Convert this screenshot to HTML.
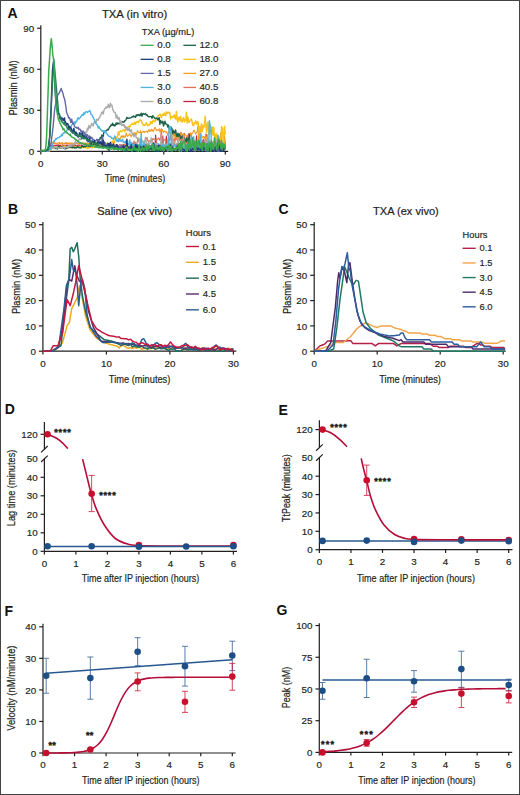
<!DOCTYPE html>
<html><head><meta charset="utf-8"><title>Figure</title>
<style>html,body{margin:0;padding:0;background:#fff;} svg{display:block;} text{font-family:"Liberation Sans", sans-serif;} text.n{stroke:#231f20;stroke-width:0.2px;} text.m{stroke:#231f20;stroke-width:0.18px;}</style>
</head><body>
<svg width="520" height="795" viewBox="0 0 520 795">
<rect x="0.5" y="0.5" width="519" height="794" fill="#fff" stroke="#444" stroke-width="1"/>
<text x="7.55" y="17.90" font-size="14" text-anchor="start" font-weight="bold" fill="#111">A</text>
<text x="7.96" y="214.40" font-size="14" text-anchor="start" font-weight="bold" fill="#111">B</text>
<text x="278.60" y="214.45" font-size="14" text-anchor="start" font-weight="bold" fill="#111">C</text>
<text x="4.86" y="414.40" font-size="14" text-anchor="start" font-weight="bold" fill="#111">D</text>
<text x="278.56" y="414.50" font-size="14" text-anchor="start" font-weight="bold" fill="#111">E</text>
<text x="4.56" y="615.50" font-size="14" text-anchor="start" font-weight="bold" fill="#111">F</text>
<text x="276.40" y="615.00" font-size="14" text-anchor="start" font-weight="bold" fill="#111">G</text>
<text class="n" x="134.60" y="18.10" font-size="11.3" text-anchor="middle" font-weight="normal" fill="#231f20" textLength="65.40" lengthAdjust="spacingAndGlyphs">TXA (in vitro)</text>
<line x1="40.80" y1="25.20" x2="40.80" y2="151.30" stroke="#231f20" stroke-width="1.2"/>
<line x1="37.20" y1="28.27" x2="40.80" y2="28.27" stroke="#231f20" stroke-width="1.2"/>
<text class="m" x="34.20" y="31.87" font-size="9.8" text-anchor="end" font-weight="normal" fill="#231f20">90</text>
<line x1="37.20" y1="69.28" x2="40.80" y2="69.28" stroke="#231f20" stroke-width="1.2"/>
<text class="m" x="34.20" y="72.88" font-size="9.8" text-anchor="end" font-weight="normal" fill="#231f20">60</text>
<line x1="37.20" y1="110.29" x2="40.80" y2="110.29" stroke="#231f20" stroke-width="1.2"/>
<text class="m" x="34.20" y="113.89" font-size="9.8" text-anchor="end" font-weight="normal" fill="#231f20">30</text>
<line x1="37.20" y1="151.30" x2="40.80" y2="151.30" stroke="#231f20" stroke-width="1.2"/>
<text class="m" x="34.20" y="154.90" font-size="9.8" text-anchor="end" font-weight="normal" fill="#231f20">0</text>
<line x1="40.80" y1="151.30" x2="228.20" y2="151.30" stroke="#231f20" stroke-width="1.2"/>
<line x1="40.80" y1="151.30" x2="40.80" y2="154.50" stroke="#231f20" stroke-width="1.2"/>
<text class="m" x="40.80" y="166.60" font-size="9.8" text-anchor="middle" font-weight="normal" fill="#231f20">0</text>
<line x1="102.30" y1="151.30" x2="102.30" y2="154.50" stroke="#231f20" stroke-width="1.2"/>
<text class="m" x="102.30" y="166.60" font-size="9.8" text-anchor="middle" font-weight="normal" fill="#231f20">30</text>
<line x1="163.80" y1="151.30" x2="163.80" y2="154.50" stroke="#231f20" stroke-width="1.2"/>
<text class="m" x="163.80" y="166.60" font-size="9.8" text-anchor="middle" font-weight="normal" fill="#231f20">60</text>
<line x1="225.30" y1="151.30" x2="225.30" y2="154.50" stroke="#231f20" stroke-width="1.2"/>
<text class="m" x="225.30" y="166.60" font-size="9.8" text-anchor="middle" font-weight="normal" fill="#231f20">90</text>
<text class="n" x="135.00" y="182.10" font-size="11.6" text-anchor="middle" font-weight="normal" fill="#231f20" textLength="60.60" lengthAdjust="spacingAndGlyphs">Time (minutes)</text>
<text class="n" transform="translate(17.10,87.90) rotate(-90)" x="0" y="0" font-size="11.0" text-anchor="middle" font-weight="normal" fill="#231f20" textLength="55.00" lengthAdjust="spacingAndGlyphs">Plasmin (nM)</text>
<polyline points="40.80,151.30 41.52,151.11 42.23,151.28 42.95,151.30 43.67,151.21 44.39,151.30 45.10,150.87 45.82,150.27 46.54,150.96 47.26,150.94 47.97,150.42 48.69,148.56 49.41,146.75 50.02,145.53 50.13,145.16 50.84,144.88 51.56,145.74 52.28,145.40 53.00,146.01 53.71,145.77 54.43,146.02 55.15,145.38 55.87,145.82 56.58,145.21 57.30,145.27 58.02,145.43 58.74,146.41 59.45,145.62 60.17,145.43 60.89,145.39 61.61,146.08 62.32,145.67 63.04,145.89 63.76,145.84 64.48,145.09 65.19,145.88 65.91,145.58 66.63,145.22 67.35,145.84 68.06,145.67 68.78,145.59 69.50,145.63 70.22,146.18 70.93,145.66 71.65,145.16 72.37,146.37 73.09,145.40 73.81,145.72 74.52,146.05 75.24,144.99 75.96,145.51 76.67,146.34 77.39,145.83 78.11,145.65 78.83,145.98 79.54,145.64 80.26,145.97 80.98,145.68 81.70,145.39 82.41,146.27 83.13,145.93 83.85,146.22 84.57,146.00 85.28,146.56 86.00,146.33 86.72,146.19 87.44,145.76 88.16,145.68 88.87,146.71 89.59,146.51 90.31,145.94 91.02,147.04 91.74,146.43 92.46,146.30 93.18,145.76 93.89,146.01 94.61,146.45 95.33,146.48 96.05,146.45 96.76,145.75 97.48,146.57 98.20,146.53 98.92,146.28 99.63,146.50 100.35,146.55 101.07,146.94 101.79,146.51 102.50,146.69 103.22,146.02 103.94,146.23 104.66,146.49 105.37,146.20 106.09,146.60 106.81,146.02 107.53,146.45 108.24,146.20 108.96,146.96 109.68,146.27 110.40,147.10 111.11,147.23 111.83,146.51 112.55,146.75 113.27,146.30 113.98,145.44 114.70,146.69 115.42,146.60 116.14,146.25 116.85,146.12 117.57,146.38 118.29,146.39 119.01,146.00 119.72,146.07 120.44,146.70 121.16,146.30 121.88,146.24 122.59,146.68 123.31,146.13 124.03,146.58 124.75,145.82 125.46,146.13 126.18,146.16 126.90,146.43 127.62,146.23 128.33,146.99 129.05,146.62 129.77,146.00 130.49,147.01 131.20,145.78 131.92,146.84 132.64,145.80 133.36,146.45 134.07,145.77 134.79,146.03 135.51,146.70 136.23,145.55 136.94,145.46 137.66,146.07 138.38,146.15 139.10,146.09 139.81,146.42 140.53,145.56 141.25,146.22 141.97,146.01 142.69,146.30 143.40,146.99 144.12,148.05 144.84,143.89 145.56,146.19 146.27,144.34 146.99,145.90 147.71,147.05 148.42,146.44 149.14,146.81 149.86,145.87 150.58,146.49 151.29,146.35 152.01,148.11 152.73,147.17 153.45,143.12 154.16,146.91 154.88,147.50 155.60,135.02 156.32,143.40 157.03,148.06 157.75,145.99 158.47,146.65 159.19,148.47 159.90,144.34 160.62,145.56 161.34,145.37 162.06,146.69 162.77,135.98 163.49,146.27 164.21,145.59 164.93,147.14 165.64,147.29 166.36,136.08 167.08,146.06 167.80,144.72 168.51,145.22 169.23,145.86 169.95,145.94 170.67,144.04 171.38,145.53 172.10,145.26 172.82,144.94 173.54,143.01 174.25,143.80 174.97,144.25 175.69,145.77 176.41,147.08 177.12,143.23 177.84,143.17 178.56,144.95 179.28,143.80 180.00,143.37 180.71,143.26 181.43,143.08 182.15,145.31 182.86,142.04 183.58,146.54 184.30,133.39 185.02,143.70 185.74,143.13 186.45,141.53 187.17,142.22 187.89,146.58 188.60,147.52 189.32,143.46 190.04,146.51 190.76,144.92 191.47,143.57 192.19,147.69 192.91,148.50 193.63,144.66 194.34,145.06 195.06,145.59 195.78,145.17 196.50,135.85 197.21,143.62 197.93,145.65 198.65,147.02 199.37,148.17 200.08,144.69 200.80,145.67 201.52,144.95 202.24,147.28 202.95,140.17 203.67,142.09 204.39,147.26 205.11,145.53 205.82,147.18 206.54,134.47 207.26,145.44 207.98,142.72 208.69,148.38 209.41,144.68 210.13,146.33 210.85,146.26 211.56,141.80 212.28,147.09 213.00,145.16 213.72,146.56 214.44,146.34 215.15,147.00 215.87,144.68 216.59,146.65 217.30,150.28 218.02,147.85 218.74,149.99 219.46,151.30 220.17,147.73 220.89,144.72 221.61,146.88 222.33,148.92 223.05,148.59 223.76,145.24 224.48,136.12 225.20,147.11" fill="none" stroke="#c1203e" stroke-width="1.1" stroke-linejoin="round" opacity="1"/>
<polyline points="40.80,151.30 41.52,150.88 42.23,150.87 42.95,151.16 43.67,151.30 44.39,151.11 45.10,151.17 45.82,150.56 46.54,149.83 47.26,150.60 47.97,150.94 48.69,148.70 49.41,145.86 50.02,143.85 50.13,144.25 50.84,143.73 51.56,144.25 52.28,143.33 53.00,143.35 53.71,143.34 54.43,143.98 55.15,143.57 55.87,143.84 56.58,143.94 57.30,143.92 58.02,144.31 58.74,144.37 59.45,143.46 60.17,143.86 60.89,143.69 61.61,143.37 62.32,144.49 63.04,144.10 63.76,143.71 64.48,143.62 65.19,143.94 65.91,143.36 66.63,143.70 67.35,144.28 68.06,144.16 68.78,143.45 69.50,143.59 70.22,144.56 70.93,143.23 71.65,143.54 72.37,143.23 73.09,143.94 73.81,143.90 74.52,144.24 75.24,142.74 75.96,143.85 76.67,143.13 77.39,144.05 78.11,143.71 78.83,144.47 79.54,143.94 80.26,143.38 80.98,144.29 81.70,143.34 82.41,143.66 83.13,144.25 83.85,144.06 84.57,144.06 85.28,143.92 86.00,144.14 86.72,144.28 87.44,144.09 88.16,144.41 88.87,144.55 89.59,144.06 90.31,143.70 91.02,144.72 91.74,144.11 92.46,144.40 93.18,144.56 93.89,143.83 94.61,144.42 95.33,143.62 96.05,144.58 96.76,144.12 97.48,144.40 98.20,144.64 98.92,144.11 99.63,144.44 100.35,144.15 101.07,144.44 101.79,144.89 102.50,144.51 103.22,144.47 103.94,144.13 104.66,144.92 105.37,144.58 106.09,145.30 106.81,144.35 107.53,145.08 108.24,145.40 108.96,144.71 109.68,144.26 110.40,145.36 111.11,145.21 111.83,145.09 112.55,145.27 113.27,144.68 113.98,145.19 114.70,145.17 115.42,144.66 116.14,145.24 116.85,144.77 117.57,145.37 118.29,145.50 119.01,145.77 119.72,144.28 120.44,145.20 121.16,144.99 121.88,145.13 122.59,145.08 123.31,145.02 124.03,144.11 124.75,145.17 125.46,145.23 126.18,144.86 126.90,144.84 127.62,143.84 128.33,143.66 129.05,144.24 129.77,144.27 130.49,143.69 131.20,142.83 131.92,144.40 132.64,142.88 133.36,144.86 134.07,140.95 134.79,144.57 135.51,143.01 136.23,145.03 136.94,143.94 137.66,139.59 138.38,140.44 139.10,142.47 139.81,143.19 140.53,144.91 141.25,142.14 141.97,141.39 142.69,141.39 143.40,141.30 144.12,143.03 144.84,141.05 145.56,140.90 146.27,138.43 146.99,137.31 147.71,140.77 148.42,141.78 149.14,140.42 149.86,141.25 150.58,141.35 151.29,140.00 152.01,141.61 152.73,138.54 153.45,139.67 154.16,138.90 154.88,139.53 155.60,140.34 156.32,140.58 157.03,139.16 157.75,139.56 158.47,138.02 159.19,138.29 159.90,140.55 160.62,138.04 161.34,128.88 162.06,139.82 162.77,139.52 163.49,142.97 164.21,139.40 164.93,139.57 165.64,140.40 166.36,141.11 167.08,140.96 167.80,141.96 168.51,135.81 169.23,141.09 169.95,139.88 170.67,134.93 171.38,139.50 172.10,139.60 172.82,140.04 173.54,140.51 174.25,138.73 174.97,142.80 175.69,135.22 176.41,139.66 177.12,139.71 177.84,139.66 178.56,133.20 179.28,141.05 180.00,139.58 180.71,132.34 181.43,140.59 182.15,143.78 182.86,134.98 183.58,139.25 184.30,139.66 185.02,141.19 185.74,144.52 186.45,140.22 187.17,135.82 187.89,146.69 188.60,133.50 189.32,145.14 190.04,144.94 190.76,143.91 191.47,140.67 192.19,143.74 192.91,142.74 193.63,140.27 194.34,140.69 195.06,143.85 195.78,144.24 196.50,146.20 197.21,145.34 197.93,143.46 198.65,143.58 199.37,144.16 200.08,134.71 200.80,145.86 201.52,144.66 202.24,143.33 202.95,143.66 203.67,142.86 204.39,144.12 205.11,145.45 205.82,133.76 206.54,146.81 207.26,142.89 207.98,144.13 208.69,145.33 209.41,144.75 210.13,142.47 210.85,146.09 211.56,146.57 212.28,147.11 213.00,145.27 213.72,146.30 214.44,144.18 215.15,145.17 215.87,147.01 216.59,139.95 217.30,144.79 218.02,151.13 218.74,136.08 219.46,145.45 220.17,145.30 220.89,132.52 221.61,144.69 222.33,146.25 223.05,146.36 223.76,145.60 224.48,148.05 225.20,141.80" fill="none" stroke="#e4705c" stroke-width="1.1" stroke-linejoin="round" opacity="1"/>
<polyline points="40.80,151.30 41.52,151.30 42.23,151.18 42.95,150.34 43.67,150.21 44.39,150.42 45.10,150.60 45.82,151.10 46.54,150.16 47.26,150.71 47.97,150.64 48.69,148.10 49.41,145.32 50.02,143.28 50.13,143.13 50.84,143.54 51.56,143.25 52.28,142.16 53.00,143.13 53.71,143.20 54.43,142.88 55.15,142.81 55.87,143.55 56.58,143.18 57.30,142.72 58.02,142.99 58.74,143.05 59.45,142.46 60.17,143.38 60.89,143.06 61.61,143.31 62.32,142.49 63.04,143.90 63.76,143.37 64.48,143.32 65.19,142.83 65.91,142.85 66.63,142.53 67.35,143.74 68.06,142.79 68.78,143.22 69.50,143.37 70.22,142.88 70.93,143.48 71.65,143.95 72.37,143.25 73.09,143.71 73.81,143.36 74.52,142.95 75.24,142.97 75.96,142.45 76.67,143.18 77.39,143.73 78.11,143.41 78.83,143.48 79.54,143.60 80.26,142.92 80.98,143.36 81.70,143.91 82.41,142.86 83.13,143.25 83.85,143.12 84.57,143.29 85.28,143.13 86.00,143.43 86.72,143.00 87.44,143.39 88.16,143.47 88.87,143.52 89.59,144.34 90.31,143.87 91.02,143.97 91.74,143.84 92.46,144.54 93.18,143.38 93.89,144.06 94.61,144.66 95.33,144.93 96.05,144.40 96.76,144.38 97.48,144.70 98.20,144.43 98.92,144.65 99.63,144.08 100.35,144.52 101.07,144.16 101.79,143.66 102.50,140.82 103.22,145.14 103.94,144.39 104.66,144.77 105.37,142.69 106.09,144.99 106.81,144.09 107.53,143.45 108.24,144.54 108.96,144.43 109.68,143.75 110.40,145.67 111.11,144.79 111.83,143.29 112.55,142.18 113.27,142.17 113.98,143.70 114.70,141.67 115.42,139.70 116.14,139.58 116.85,139.94 117.57,140.51 118.29,138.22 119.01,139.29 119.72,139.60 120.44,138.87 121.16,135.89 121.88,137.19 122.59,135.82 123.31,137.62 124.03,135.67 124.75,137.35 125.46,136.59 126.18,133.12 126.90,135.02 127.62,136.37 128.33,135.64 129.05,134.92 129.77,133.62 130.49,135.50 131.20,136.83 131.92,134.86 132.64,134.36 133.36,134.10 134.07,132.47 134.79,133.56 135.51,132.81 136.23,135.02 136.94,132.45 137.66,130.80 138.38,132.29 139.10,132.78 139.81,132.76 140.53,130.61 141.25,133.81 141.97,132.66 142.69,131.81 143.40,131.30 144.12,132.55 144.84,131.43 145.56,131.94 146.27,131.25 146.99,131.36 147.71,132.40 148.42,130.81 149.14,129.51 149.86,131.57 150.58,130.47 151.29,129.16 152.01,131.35 152.73,129.86 153.45,131.44 154.16,128.80 154.88,127.40 155.60,127.81 156.32,130.63 157.03,129.50 157.75,130.32 158.47,130.39 159.19,128.67 159.90,132.25 160.62,129.44 161.34,131.00 162.06,129.41 162.77,131.11 163.49,132.36 164.21,131.39 164.93,131.03 165.64,132.09 166.36,131.74 167.08,133.27 167.80,135.55 168.51,131.00 169.23,131.78 169.95,133.43 170.67,133.91 171.38,131.82 172.10,135.77 172.82,136.54 173.54,135.42 174.25,132.18 174.97,138.67 175.69,132.48 176.41,137.14 177.12,138.43 177.84,132.74 178.56,136.01 179.28,138.89 180.00,136.50 180.71,133.25 181.43,132.54 182.15,136.45 182.86,134.32 183.58,133.49 184.30,136.76 185.02,134.22 185.74,135.10 186.45,136.27 187.17,136.13 187.89,134.85 188.60,135.03 189.32,136.59 190.04,136.34 190.76,132.64 191.47,134.95 192.19,133.39 192.91,132.70 193.63,130.45 194.34,130.25 195.06,132.76 195.78,134.04 196.50,132.84 197.21,131.64 197.93,125.57 198.65,141.40 199.37,139.20 200.08,126.02 200.80,135.33 201.52,135.68 202.24,137.90 202.95,136.83 203.67,136.57 204.39,138.60 205.11,136.11 205.82,144.42 206.54,137.67 207.26,134.78 207.98,137.61 208.69,140.90 209.41,142.89 210.13,140.15 210.85,143.68 211.56,144.05 212.28,146.03 213.00,142.61 213.72,141.69 214.44,140.60 215.15,143.64 215.87,140.90 216.59,143.61 217.30,144.06 218.02,142.60 218.74,141.59 219.46,145.21 220.17,145.15 220.89,145.13 221.61,144.71 222.33,147.30 223.05,142.74 223.76,135.54 224.48,144.49 225.20,141.03" fill="none" stroke="#f39c23" stroke-width="1.1" stroke-linejoin="round" opacity="1"/>
<polyline points="40.80,150.89 41.52,151.30 42.23,150.92 42.95,150.10 43.67,150.42 44.39,151.30 45.10,150.47 45.82,150.25 46.54,151.23 47.26,151.28 47.97,150.76 48.69,151.30 49.00,149.81 49.41,151.25 50.13,149.34 50.84,147.69 51.05,147.32 51.56,147.11 52.28,147.05 53.00,147.32 53.71,146.58 54.43,148.37 55.15,147.20 55.87,147.59 56.58,147.13 57.30,147.08 58.02,147.70 58.74,147.55 59.45,146.77 60.17,147.01 60.89,147.57 61.61,146.08 62.32,145.94 63.04,148.00 63.76,147.03 64.48,145.83 65.19,146.77 65.91,147.08 66.63,147.31 67.35,147.49 68.06,147.32 68.78,147.50 69.50,146.79 70.22,147.42 70.93,147.44 71.65,147.86 72.37,147.23 73.09,147.69 73.81,147.30 74.52,146.63 75.24,147.00 75.96,146.92 76.67,147.00 77.39,147.17 78.11,147.27 78.83,147.37 79.54,146.78 80.26,147.79 80.98,146.47 81.70,147.18 82.41,147.61 83.13,147.47 83.85,147.57 84.57,147.11 85.28,147.59 86.00,146.57 86.72,147.63 87.44,148.44 88.16,147.60 88.87,148.30 89.59,147.22 90.31,146.62 91.02,146.84 91.74,147.93 92.46,147.56 93.18,146.08 93.89,146.78 94.61,146.85 95.33,146.18 96.05,145.32 96.76,145.86 97.48,146.40 98.20,146.18 98.92,145.95 99.63,146.52 100.35,146.67 101.07,145.97 101.79,146.42 102.50,145.83 103.22,145.42 103.94,142.73 104.66,145.98 105.37,144.94 106.09,144.75 106.81,143.85 107.53,142.94 108.24,144.39 108.96,144.51 109.68,145.17 110.40,144.15 111.11,141.86 111.83,141.63 112.55,142.02 113.27,140.55 113.98,139.35 114.70,138.06 115.42,138.50 116.14,137.14 116.85,137.78 117.57,135.98 118.29,131.88 119.01,134.97 119.72,131.88 120.44,130.79 121.16,131.19 121.88,131.41 122.59,130.35 123.31,130.04 124.03,129.87 124.75,131.59 125.46,129.34 126.18,129.69 126.90,128.92 127.62,127.65 128.33,126.76 129.05,126.06 129.77,127.15 130.49,125.17 131.20,124.46 131.92,124.08 132.64,123.37 133.36,124.57 134.07,124.04 134.79,122.40 135.51,124.24 136.23,121.96 136.94,122.22 137.66,121.49 138.38,122.44 139.10,120.95 139.81,119.88 140.53,119.82 141.25,120.64 141.97,122.75 142.69,123.80 143.40,125.44 144.12,125.02 144.84,125.45 145.56,124.24 146.27,122.71 146.99,124.38 147.71,125.70 148.42,124.72 149.14,125.10 149.86,124.53 150.58,121.46 151.29,122.30 152.01,123.86 152.73,121.13 153.45,120.12 154.16,121.54 154.88,121.42 155.60,120.61 156.32,118.97 157.03,117.76 157.75,116.25 158.47,115.58 159.19,115.00 159.90,114.13 160.62,114.72 161.34,117.75 162.06,115.19 162.77,114.32 163.49,115.32 164.21,113.06 164.93,115.00 165.64,115.79 166.36,111.76 167.08,112.90 167.80,113.49 168.51,112.19 169.23,112.36 169.95,113.93 170.67,118.92 171.38,116.39 172.10,116.42 172.82,117.68 173.54,116.13 174.25,114.90 174.97,117.89 175.69,119.19 176.41,111.47 177.12,119.17 177.84,121.76 178.56,117.57 179.28,117.25 180.00,120.89 180.71,116.60 181.43,120.65 182.15,122.17 182.86,119.07 183.58,117.50 184.30,121.94 185.02,119.25 185.74,120.74 186.45,112.17 187.17,123.04 187.89,117.08 188.60,121.73 189.32,122.29 190.04,120.07 190.76,119.88 191.47,119.09 192.19,122.24 192.91,125.40 193.63,125.58 194.34,122.80 195.06,122.95 195.78,120.86 196.50,124.17 197.21,122.61 197.93,121.64 198.65,126.15 199.37,131.55 200.08,131.08 200.80,132.30 201.52,123.63 202.24,131.41 202.95,125.60 203.67,128.00 204.39,125.06 205.11,116.25 205.82,124.38 206.54,132.20 207.26,125.09 207.98,122.04 208.69,134.57 209.41,133.54 210.13,129.06 210.85,130.62 211.56,134.04 212.28,127.16 213.00,135.17 213.72,127.17 214.44,136.59 215.15,134.28 215.87,141.57 216.59,133.64 217.30,138.97 218.02,135.47 218.74,136.98 219.46,138.40 220.17,140.36 220.89,137.74 221.61,126.71 222.33,128.36 223.05,138.59 223.76,143.93 224.48,126.18 225.20,134.88" fill="none" stroke="#f7c31c" stroke-width="1.5" stroke-linejoin="round" opacity="1"/>
<polyline points="40.80,151.30 41.52,151.30 42.23,150.89 42.95,150.80 43.67,151.30 44.39,150.66 45.10,150.63 45.82,151.30 46.54,150.99 47.26,150.53 47.97,151.02 48.69,151.30 49.00,150.77 49.41,149.66 50.13,148.25 50.84,149.35 51.05,146.45 51.56,148.49 52.28,147.33 53.00,147.16 53.71,147.29 54.43,147.73 55.15,148.43 55.87,147.43 56.58,148.15 57.30,149.12 58.02,146.18 58.74,147.32 59.45,146.70 60.17,148.18 60.89,146.86 61.61,146.78 62.32,146.78 63.04,147.63 63.76,148.26 64.48,147.68 65.19,148.77 65.91,148.48 66.63,147.49 67.35,148.06 68.06,147.59 68.78,147.55 69.50,146.42 70.22,146.75 70.93,147.47 71.65,146.76 72.37,147.83 73.09,147.58 73.81,146.88 74.52,148.04 75.24,147.50 75.96,148.05 76.67,147.25 77.39,146.40 78.11,147.69 78.83,147.14 79.54,147.74 80.26,147.86 80.98,147.89 81.70,146.41 82.41,145.78 83.13,146.67 83.85,147.18 84.57,146.26 85.28,146.68 86.00,145.92 86.72,146.06 87.44,145.92 88.16,145.60 88.87,146.10 89.59,145.86 90.31,146.44 91.02,145.60 91.74,145.99 92.46,145.05 93.18,145.33 93.89,144.08 94.61,143.41 95.33,144.56 96.05,143.68 96.76,143.41 97.48,141.45 98.20,139.84 98.92,139.72 99.63,139.89 100.35,137.43 101.07,138.70 101.79,135.05 102.50,135.72 103.22,136.53 103.94,131.15 104.66,131.11 105.37,132.32 106.09,130.64 106.81,130.25 107.53,129.29 108.24,129.89 108.96,128.53 109.68,126.88 110.40,126.38 111.11,124.88 111.83,125.30 112.55,123.21 113.27,125.50 113.98,124.47 114.70,126.03 115.42,125.26 116.14,122.89 116.85,124.50 117.57,123.03 118.29,123.26 119.01,123.89 119.72,123.17 120.44,123.15 121.16,122.98 121.88,121.81 122.59,121.66 123.31,122.24 124.03,122.09 124.75,120.68 125.46,120.57 126.18,119.21 126.90,117.32 127.62,118.23 128.33,118.36 129.05,117.90 129.77,118.11 130.49,117.85 131.20,117.62 131.92,116.99 132.64,116.95 133.36,115.93 134.07,116.80 134.79,116.57 135.51,117.34 136.23,114.92 136.94,115.79 137.66,114.63 138.38,115.29 139.10,114.57 139.81,115.84 140.53,114.90 141.25,113.11 141.97,116.18 142.69,114.06 143.40,113.49 144.12,114.40 144.84,113.98 145.56,113.42 146.27,115.13 146.99,114.68 147.71,116.20 148.42,116.48 149.14,116.78 149.86,116.61 150.58,116.59 151.29,116.56 152.01,118.36 152.73,115.74 153.45,116.69 154.16,117.30 154.88,118.47 155.60,118.49 156.32,118.03 157.03,118.15 157.75,119.90 158.47,118.49 159.19,117.75 159.90,124.39 160.62,120.44 161.34,121.97 162.06,123.26 162.77,121.24 163.49,126.02 164.21,123.78 164.93,121.27 165.64,123.74 166.36,124.05 167.08,124.59 167.80,126.96 168.51,125.04 169.23,129.40 169.95,126.63 170.67,130.44 171.38,127.42 172.10,129.03 172.82,133.94 173.54,130.32 174.25,132.84 174.97,132.53 175.69,130.03 176.41,135.64 177.12,136.67 177.84,133.47 178.56,136.02 179.28,133.94 180.00,136.31 180.71,138.66 181.43,137.61 182.15,135.93 182.86,136.93 183.58,139.03 184.30,139.47 185.02,140.25 185.74,141.55 186.45,137.83 187.17,141.60 187.89,138.87 188.60,143.52 189.32,133.97 190.04,142.74 190.76,144.61 191.47,146.06 192.19,137.78 192.91,148.50 193.63,148.01 194.34,144.61 195.06,146.91 195.78,145.61 196.50,144.32 197.21,145.42 197.93,146.62 198.65,143.21 199.37,141.82 200.08,147.68 200.80,145.97 201.52,146.53 202.24,148.69 202.95,147.14 203.67,143.36 204.39,150.62 205.11,147.61 205.82,147.82 206.54,143.09 207.26,150.16 207.98,148.00 208.69,147.49 209.41,147.27 210.13,149.38 210.85,146.41 211.56,149.55 212.28,147.90 213.00,145.34 213.72,148.73 214.44,148.44 215.15,139.85 215.87,148.27 216.59,148.14 217.30,147.29 218.02,145.91 218.74,151.30 219.46,149.12 220.17,149.44 220.89,149.59 221.61,149.22 222.33,149.21 223.05,147.31 223.76,149.34 224.48,147.65 225.20,147.20" fill="none" stroke="#1b6248" stroke-width="1.4" stroke-linejoin="round" opacity="1"/>
<polyline points="40.80,151.30 41.52,151.30 42.23,151.30 42.95,151.30 43.67,151.30 44.39,150.97 45.10,150.49 45.82,150.44 46.54,151.30 47.26,151.23 47.97,151.25 48.69,149.83 49.41,151.05 50.13,148.33 50.84,149.03 51.05,149.10 51.56,148.29 52.28,147.74 53.00,148.15 53.71,147.59 54.43,148.15 55.15,147.33 55.87,147.26 56.58,148.11 57.30,146.99 58.02,147.79 58.74,147.77 59.45,148.40 60.17,147.89 60.89,147.10 61.61,148.46 62.32,147.05 63.04,147.19 63.76,147.17 64.48,148.80 65.19,147.29 65.91,146.59 66.63,147.31 67.35,146.49 68.06,147.94 68.78,145.61 69.50,146.28 70.22,145.00 70.93,146.61 71.65,144.64 72.37,145.04 73.09,144.08 73.81,144.94 74.52,144.16 75.24,141.64 75.96,143.17 76.67,142.52 77.39,141.67 78.11,141.61 78.83,139.53 79.54,138.60 80.26,139.70 80.98,139.39 81.70,136.33 82.41,134.53 83.13,133.84 83.85,132.30 84.57,133.99 85.28,131.95 86.00,132.61 86.72,132.10 87.44,128.26 88.16,129.96 88.87,125.37 89.59,127.82 90.31,128.09 91.02,125.41 91.74,123.33 92.46,124.42 93.18,126.04 93.89,123.15 94.61,121.07 95.33,122.92 96.05,122.59 96.76,119.27 97.48,119.48 98.20,120.18 98.92,118.21 99.63,117.75 100.35,115.35 101.07,114.65 101.79,112.27 102.50,111.92 103.22,114.07 103.94,110.42 104.66,108.79 105.37,108.44 106.09,106.69 106.81,107.90 107.53,107.49 108.24,104.32 108.96,106.71 109.68,107.87 110.40,103.27 111.11,105.45 111.83,104.98 112.55,108.48 113.27,110.39 113.98,112.01 114.70,112.36 115.42,112.79 116.14,117.87 116.85,115.14 117.57,118.52 118.29,119.10 119.01,117.46 119.72,120.34 120.44,124.37 121.16,121.04 121.88,125.48 122.59,124.70 123.31,125.46 124.03,124.45 124.75,127.64 125.46,126.27 126.18,129.21 126.90,127.20 127.62,130.32 128.33,130.32 129.05,127.91 129.77,130.80 130.49,131.81 131.20,129.63 131.92,132.93 132.64,135.14 133.36,133.59 134.07,136.78 134.79,134.20 135.51,134.67 136.23,137.68 136.94,138.32 137.66,137.73 138.38,138.43 139.10,140.27 139.81,138.63 140.53,142.68 141.25,140.96 141.97,141.39 142.69,141.69 143.40,141.34 144.12,143.63 144.84,141.34 145.56,137.39 146.27,143.41 146.99,144.58 147.71,144.52 148.42,142.61 149.14,144.61 149.86,143.39 150.58,142.22 151.29,137.82 152.01,141.92 152.73,144.65 153.45,145.92 154.16,143.15 154.88,144.22 155.60,143.20 156.32,144.82 157.03,143.30 157.75,143.87 158.47,144.14 159.19,144.53 159.90,144.77 160.62,145.09 161.34,135.07 162.06,144.25 162.77,146.40 163.49,143.42 164.21,146.00 164.93,144.54 165.64,146.04 166.36,146.28 167.08,143.20 167.80,146.43 168.51,147.79 169.23,143.22 169.95,146.54 170.67,143.19 171.38,145.89 172.10,144.92 172.82,136.69 173.54,145.78 174.25,145.38 174.97,143.87 175.69,147.31 176.41,145.57 177.12,146.01 177.84,138.25 178.56,146.51 179.28,146.88 180.00,149.73 180.71,145.77 181.43,145.88 182.15,147.25 182.86,148.51 183.58,135.51 184.30,146.38 185.02,142.08 185.74,144.88 186.45,147.55 187.17,145.76 187.89,147.23 188.60,147.02 189.32,147.08 190.04,147.00 190.76,145.51 191.47,146.89 192.19,147.30 192.91,147.50 193.63,146.69 194.34,148.41 195.06,147.91 195.78,147.33 196.50,148.06 197.21,147.48 197.93,148.18 198.65,144.64 199.37,145.60 200.08,146.83 200.80,147.55 201.52,144.51 202.24,147.10 202.95,147.69 203.67,147.19 204.39,147.22 205.11,145.74 205.82,147.73 206.54,144.86 207.26,138.78 207.98,146.85 208.69,149.20 209.41,145.38 210.13,148.34 210.85,148.00 211.56,146.69 212.28,146.27 213.00,149.54 213.72,148.52 214.44,149.99 215.15,138.26 215.87,148.29 216.59,139.80 217.30,149.15 218.02,148.77 218.74,149.29 219.46,147.58 220.17,146.27 220.89,151.01 221.61,148.56 222.33,149.01 223.05,147.79 223.76,146.07 224.48,148.73 225.20,149.98" fill="none" stroke="#a9a9a9" stroke-width="1.4" stroke-linejoin="round" opacity="1"/>
<polyline points="40.80,151.30 41.52,150.19 42.23,150.79 42.95,151.30 43.67,151.30 44.39,150.35 45.10,149.83 45.82,151.30 46.54,151.12 46.95,150.17 47.26,150.43 47.97,148.75 48.69,149.96 49.41,148.66 50.02,149.42 50.13,146.96 50.84,147.70 51.56,147.51 52.28,144.89 53.00,143.71 53.71,141.11 54.43,141.45 54.94,140.37 55.15,139.80 55.87,138.58 56.58,139.16 57.30,137.86 58.02,137.68 58.74,137.69 59.45,136.89 60.17,136.38 60.89,136.48 61.61,134.42 62.32,135.59 63.04,133.24 63.76,132.79 64.48,132.90 65.19,132.76 65.91,131.79 66.63,130.65 67.35,129.66 68.06,129.17 68.78,127.88 69.50,128.13 70.22,126.78 70.93,127.21 71.65,124.81 72.37,124.42 73.09,124.00 73.81,122.17 74.52,121.89 75.24,123.69 75.96,121.13 76.67,121.55 77.39,119.23 78.11,117.65 78.83,119.10 79.54,118.04 80.26,117.55 80.98,116.43 81.70,115.53 82.41,114.38 83.13,115.23 83.85,112.77 84.57,114.05 85.28,112.80 86.00,111.77 86.72,111.65 87.44,112.35 88.16,111.76 88.87,111.17 89.59,110.46 90.31,111.18 91.02,114.39 91.74,114.67 92.46,115.96 93.18,117.38 93.89,119.10 94.61,120.24 95.33,122.81 96.05,123.56 96.76,124.76 97.48,124.88 98.20,128.09 98.92,126.60 99.63,128.34 100.35,129.01 101.07,129.99 101.79,131.12 102.50,130.62 103.22,131.33 103.94,131.00 104.66,132.83 105.37,131.32 106.09,132.63 106.81,133.70 107.53,134.73 108.24,135.50 108.96,136.42 109.68,136.50 110.40,136.60 111.11,137.20 111.83,138.49 112.55,138.13 113.27,139.23 113.98,138.03 114.70,135.93 115.42,137.80 116.14,139.26 116.85,141.23 117.57,141.11 118.29,141.66 119.01,138.62 119.72,140.95 120.44,140.11 121.16,141.34 121.88,140.66 122.59,139.16 123.31,142.29 124.03,142.05 124.75,142.91 125.46,140.85 126.18,143.67 126.90,144.05 127.62,144.63 128.33,144.88 129.05,142.54 129.77,139.90 130.49,145.01 131.20,142.57 131.92,143.76 132.64,145.84 133.36,144.90 134.07,144.99 134.79,145.76 135.51,142.32 136.23,147.71 136.94,144.72 137.66,144.93 138.38,146.32 139.10,145.47 139.81,144.62 140.53,145.75 141.25,134.10 141.97,145.30 142.69,149.17 143.40,144.50 144.12,143.42 144.84,145.21 145.56,145.19 146.27,148.51 146.99,146.77 147.71,147.74 148.42,147.45 149.14,145.34 149.86,147.78 150.58,146.88 151.29,149.32 152.01,146.95 152.73,146.63 153.45,147.73 154.16,147.77 154.88,144.23 155.60,148.48 156.32,148.28 157.03,147.96 157.75,145.24 158.47,144.02 159.19,146.46 159.90,147.91 160.62,147.53 161.34,145.51 162.06,148.23 162.77,145.02 163.49,145.08 164.21,146.94 164.93,146.17 165.64,146.05 166.36,144.97 167.08,148.55 167.80,145.51 168.51,147.66 169.23,127.13 169.95,126.74 170.67,126.63 171.38,148.57 172.10,149.42 172.82,148.54 173.54,145.29 174.25,144.61 174.97,146.42 175.69,145.70 176.41,148.05 177.12,147.47 177.84,146.99 178.56,148.88 179.28,148.77 180.00,147.30 180.71,147.89 181.43,148.92 182.15,146.96 182.86,147.86 183.58,146.13 184.30,147.55 185.02,147.97 185.74,147.40 186.45,147.83 187.17,148.53 187.89,148.18 188.60,146.62 189.32,146.78 190.04,145.93 190.76,150.02 191.47,135.38 192.19,148.30 192.91,147.52 193.63,136.81 194.34,148.49 195.06,146.74 195.78,147.58 196.50,149.44 197.21,146.04 197.93,146.52 198.65,148.68 199.37,146.78 200.08,148.94 200.80,133.89 201.52,148.27 202.24,149.09 202.95,148.52 203.67,149.07 204.39,147.78 205.11,147.82 205.82,148.03 206.54,148.86 207.26,151.30 207.98,148.01 208.69,150.74 209.41,120.77 210.13,125.56 210.85,126.97 211.56,148.75 212.28,148.49 213.00,148.44 213.72,149.03 214.44,149.09 215.15,149.58 215.87,146.71 216.59,148.37 217.30,147.06 218.02,135.42 218.74,148.30 219.46,148.65 220.17,147.81 220.89,147.33 221.61,148.15 222.33,149.41 223.05,149.58 223.76,146.26 224.48,148.93 225.20,148.96" fill="none" stroke="#4bb4e3" stroke-width="1.4" stroke-linejoin="round" opacity="1"/>
<polyline points="40.80,151.30 41.52,151.00 42.23,151.22 42.95,151.15 43.67,151.10 44.39,150.87 45.10,151.14 45.82,150.66 46.54,150.79 46.95,150.85 47.26,150.38 47.97,149.08 48.69,147.77 48.79,147.62 49.41,146.47 50.13,144.82 50.84,143.50 51.05,142.76 51.56,139.00 52.28,133.82 53.00,127.15 53.10,126.66 53.71,120.16 54.43,111.90 54.60,110.26 55.15,106.59 55.87,103.34 56.58,100.21 57.20,96.47 57.30,96.52 58.02,94.43 58.74,93.78 59.45,92.65 60.17,90.56 60.89,89.21 61.30,88.40 61.61,89.90 62.32,91.62 63.04,93.70 63.76,97.10 64.48,98.68 64.78,100.19 65.19,102.10 65.91,107.01 66.63,112.43 67.35,114.17 68.06,115.83 68.78,118.08 69.50,117.69 70.22,120.05 70.93,122.48 71.65,119.20 72.37,122.66 73.09,123.80 73.81,123.62 74.52,126.55 75.24,127.18 75.96,127.10 76.67,127.98 77.39,127.94 78.11,127.30 78.83,129.55 79.54,129.01 80.26,129.41 80.98,131.78 81.70,130.87 82.41,132.68 83.13,131.02 83.85,132.21 84.57,133.24 85.28,135.27 86.00,134.23 86.72,135.74 87.44,134.68 88.16,136.13 88.87,137.44 89.59,136.09 90.31,136.86 91.02,138.79 91.74,137.22 92.46,139.17 93.18,139.53 93.89,139.41 94.61,140.72 95.33,140.73 96.05,140.78 96.76,139.28 97.48,139.67 98.20,141.86 98.92,140.03 99.63,142.05 100.35,141.80 101.07,141.46 101.79,142.32 102.50,136.66 103.22,142.80 103.94,144.59 104.66,142.07 105.37,144.16 106.09,144.25 106.81,147.40 107.53,143.25 108.24,143.66 108.96,143.89 109.68,143.91 110.40,143.34 111.11,145.46 111.83,144.59 112.55,146.65 113.27,146.31 113.98,144.87 114.70,145.69 115.42,147.67 116.14,145.92 116.85,146.61 117.57,147.40 118.29,146.12 119.01,147.14 119.72,148.51 120.44,148.10 121.16,145.05 121.88,148.73 122.59,146.93 123.31,146.60 124.03,146.66 124.75,148.80 125.46,147.91 126.18,147.50 126.90,146.87 127.62,148.55 128.33,149.21 129.05,146.94 129.77,146.92 130.49,147.82 131.20,148.99 131.92,147.97 132.64,148.39 133.36,147.65 134.07,149.95 134.79,148.46 135.51,148.78 136.23,149.83 136.94,148.39 137.66,148.60 138.38,149.09 139.10,148.22 139.81,150.22 140.53,148.74 141.25,148.22 141.97,148.39 142.69,147.53 143.40,150.03 144.12,150.38 144.84,148.48 145.56,148.25 146.27,146.44 146.99,148.10 147.71,149.74 148.42,147.91 149.14,149.73 149.86,150.44 150.58,145.97 151.29,148.48 152.01,148.07 152.73,148.24 153.45,146.89 154.16,144.34 154.88,147.56 155.60,150.02 156.32,150.43 157.03,147.36 157.75,147.32 158.47,148.38 159.19,148.71 159.90,148.78 160.62,149.73 161.34,147.30 162.06,148.28 162.77,148.45 163.49,148.61 164.21,147.88 164.93,148.49 165.64,148.23 166.36,150.34 167.08,148.51 167.80,146.69 168.51,149.66 169.23,149.24 169.95,148.14 170.67,148.08 171.38,148.45 172.10,150.91 172.82,148.61 173.54,150.46 174.25,150.08 174.97,148.59 175.69,149.52 176.41,148.32 177.12,145.78 177.84,148.38 178.56,148.45 179.28,150.23 180.00,149.96 180.71,150.44 181.43,149.87 182.15,150.49 182.86,150.03 183.58,149.54 184.30,150.42 185.02,150.89 185.74,150.84 186.45,148.86 187.17,149.30 187.89,148.26 188.60,148.25 189.32,149.77 190.04,148.68 190.76,151.00 191.47,146.94 192.19,148.14 192.91,149.69 193.63,150.74 194.34,149.06 195.06,151.30 195.78,150.35 196.50,140.86 197.21,149.43 197.93,150.06 198.65,148.50 199.37,150.68 200.08,146.43 200.80,150.11 201.52,150.51 202.24,149.08 202.95,150.69 203.67,139.42 204.39,150.26 205.11,147.46 205.82,150.84 206.54,148.99 207.26,150.98 207.98,151.14 208.69,149.51 209.41,148.96 210.13,151.10 210.85,148.42 211.56,150.60 212.28,149.60 213.00,149.34 213.72,149.11 214.44,151.30 215.15,148.01 215.87,149.18 216.59,150.27 217.30,150.93 218.02,144.21 218.74,151.30 219.46,143.91 220.17,150.23 220.89,151.11 221.61,150.45 222.33,148.18 223.05,150.26 223.76,150.55 224.48,148.44 225.20,149.43" fill="none" stroke="#6466a6" stroke-width="1.4" stroke-linejoin="round" opacity="1"/>
<polyline points="40.80,151.04 41.52,151.30 42.23,150.76 42.95,150.90 43.67,150.52 44.39,150.76 45.10,150.62 45.82,150.66 46.54,150.05 47.26,149.81 47.97,149.35 48.69,144.20 49.41,139.10 49.61,137.69 50.13,127.37 50.84,113.27 51.01,109.62 51.56,94.94 52.28,76.23 52.51,70.15 53.00,65.71 53.51,61.95 53.71,65.73 54.43,78.07 54.53,80.32 55.15,89.86 55.76,99.48 55.87,100.62 56.58,104.98 57.20,109.94 57.30,110.12 58.02,112.64 58.43,113.65 58.74,114.25 59.45,115.12 60.17,119.04 60.89,117.12 61.61,120.50 62.32,118.24 63.04,119.05 63.76,120.64 64.48,117.89 64.78,120.97 65.19,121.40 65.91,123.16 66.63,124.71 67.35,123.61 68.06,124.33 68.78,129.55 69.50,126.32 70.22,128.06 70.93,127.81 71.65,129.23 72.37,132.81 73.09,133.22 73.81,128.44 74.52,131.77 75.24,134.95 75.96,131.97 76.67,133.38 77.39,136.17 78.11,137.12 78.83,136.05 79.54,132.87 80.26,133.59 80.98,134.22 81.70,133.56 82.41,133.29 83.13,138.39 83.85,135.48 84.57,136.70 85.28,137.71 86.00,136.78 86.72,137.06 87.44,138.47 88.16,141.73 88.87,141.16 89.59,137.88 90.31,143.49 91.02,144.76 91.74,141.43 92.46,141.01 93.18,141.40 93.89,144.37 94.61,140.76 95.33,144.08 96.05,144.87 96.76,144.10 97.48,143.38 98.20,142.08 98.92,142.41 99.63,143.73 100.35,142.21 101.07,143.92 101.79,142.67 102.50,146.95 103.22,140.34 103.94,143.47 104.66,147.51 105.37,145.77 106.09,145.61 106.81,146.50 107.53,146.63 108.24,143.55 108.96,150.71 109.68,144.84 110.40,142.53 111.11,146.76 111.83,147.04 112.55,145.91 113.27,144.00 113.98,149.41 114.70,147.19 115.42,147.72 116.14,146.44 116.85,144.43 117.57,146.36 118.29,148.33 119.01,147.54 119.72,148.87 120.44,148.91 121.16,148.02 121.88,148.07 122.59,149.95 123.31,145.13 124.03,148.20 124.75,150.47 125.46,146.10 126.18,149.44 126.90,139.24 127.62,148.23 128.33,147.81 129.05,148.00 129.77,149.37 130.49,148.32 131.20,144.83 131.92,151.30 132.64,148.42 133.36,147.80 134.07,150.45 134.79,151.03 135.51,144.77 136.23,149.27 136.94,144.93 137.66,147.68 138.38,148.51 139.10,147.81 139.81,147.54 140.53,146.58 141.25,147.91 141.97,148.44 142.69,148.40 143.40,146.32 144.12,147.28 144.84,150.52 145.56,149.88 146.27,148.17 146.99,149.88 147.71,149.45 148.42,150.49 149.14,149.27 149.86,148.06 150.58,147.06 151.29,148.82 152.01,145.16 152.73,148.99 153.45,143.19 154.16,147.10 154.88,148.01 155.60,149.79 156.32,151.30 157.03,149.20 157.75,148.62 158.47,145.53 159.19,151.30 159.90,145.58 160.62,149.42 161.34,147.70 162.06,151.30 162.77,148.76 163.49,149.63 164.21,147.81 164.93,148.88 165.64,151.08 166.36,147.38 167.08,147.84 167.80,148.02 168.51,147.30 169.23,147.15 169.95,149.15 170.67,144.87 171.38,151.30 172.10,146.75 172.82,147.89 173.54,148.98 174.25,149.95 174.97,149.13 175.69,149.15 176.41,149.81 177.12,150.46 177.84,145.38 178.56,148.83 179.28,150.33 180.00,151.30 180.71,150.56 181.43,148.00 182.15,147.95 182.86,149.69 183.58,149.22 184.30,149.87 185.02,151.30 185.74,147.03 186.45,148.70 187.17,144.97 187.89,150.72 188.60,149.63 189.32,147.83 190.04,149.85 190.76,151.30 191.47,151.12 192.19,149.26 192.91,148.84 193.63,149.63 194.34,147.69 195.06,147.72 195.78,145.92 196.50,149.46 197.21,149.97 197.93,148.55 198.65,147.90 199.37,149.44 200.08,148.76 200.80,150.15 201.52,145.78 202.24,151.30 202.95,148.24 203.67,148.82 204.39,146.80 205.11,149.53 205.82,148.11 206.54,147.30 207.26,147.90 207.98,150.76 208.69,150.01 209.41,149.47 210.13,144.33 210.85,148.88 211.56,147.91 212.28,150.59 213.00,146.25 213.72,150.28 214.44,150.13 215.15,146.84 215.87,151.05 216.59,149.06 217.30,149.78 218.02,146.87 218.74,139.65 219.46,148.89 220.17,150.25 220.89,151.30 221.61,150.04 222.33,151.30 223.05,148.21 223.76,149.96 224.48,146.96 225.20,148.62" fill="none" stroke="#1c3f7c" stroke-width="1.5" stroke-linejoin="round" opacity="1"/>
<polyline points="40.80,151.24 41.52,151.12 42.23,151.18 42.95,150.92 43.67,150.74 44.39,150.69 45.10,150.49 45.82,150.48 46.54,150.03 47.26,149.81 47.97,150.02 48.18,149.88 48.69,145.79 49.41,139.74 50.02,134.84 50.13,132.63 50.84,116.88 51.56,101.05 52.07,89.92 52.28,86.03 53.00,73.41 53.71,60.42 53.80,59.01 54.43,65.94 55.15,74.07 55.87,81.90 56.58,90.14 57.30,97.90 58.02,105.99 58.59,112.31 58.74,112.73 59.45,113.96 60.17,118.38 60.89,118.45 61.30,121.08 61.61,119.23 62.32,122.67 63.04,122.72 63.76,124.10 64.48,122.22 65.19,125.46 65.91,125.17 66.63,126.57 67.35,128.48 68.06,128.15 68.78,128.20 69.50,129.77 70.22,129.61 70.93,131.30 71.65,131.62 72.37,132.57 73.09,132.59 73.81,131.94 74.52,133.83 75.24,134.27 75.96,135.20 76.67,135.56 77.39,134.00 78.11,136.37 78.83,136.46 79.54,136.05 80.26,136.58 80.98,134.96 81.70,138.86 82.41,136.98 83.13,137.05 83.85,138.90 84.57,138.87 85.28,138.34 86.00,137.72 86.72,140.23 87.44,141.19 88.16,139.52 88.87,139.48 89.59,141.42 90.31,143.38 91.02,140.80 91.74,142.57 92.46,141.90 93.18,143.28 93.89,143.97 94.61,144.32 95.33,142.98 96.05,143.25 96.76,146.42 97.48,145.68 98.20,143.69 98.92,145.69 99.63,146.74 100.35,145.86 101.07,146.19 101.79,146.42 102.50,146.94 103.22,146.89 103.94,147.11 104.66,146.56 105.37,147.59 106.09,147.26 106.81,147.24 107.53,146.14 108.24,147.00 108.96,147.49 109.68,147.06 110.40,147.26 111.11,146.80 111.83,147.37 112.55,146.41 113.27,146.88 113.98,148.11 114.70,148.51 115.42,147.54 116.14,147.94 116.85,148.53 117.57,149.76 118.29,150.15 119.01,148.46 119.72,148.21 120.44,148.28 121.16,150.09 121.88,148.28 122.59,149.66 123.31,148.93 124.03,148.92 124.75,149.92 125.46,149.75 126.18,150.97 126.90,150.03 127.62,150.76 128.33,148.93 129.05,149.24 129.77,148.55 130.49,149.01 131.20,149.83 131.92,149.03 132.64,149.64 133.36,148.82 134.07,149.07 134.79,150.14 135.51,149.33 136.23,149.29 136.94,149.60 137.66,148.61 138.38,147.95 139.10,149.66 139.81,149.65 140.53,151.21 141.25,149.48 141.97,149.74 142.69,151.15 143.40,149.15 144.12,148.91 144.84,150.00 145.56,149.71 146.27,150.20 146.99,148.79 147.71,150.66 148.42,149.68 149.14,147.82 149.86,149.39 150.58,149.05 151.29,149.56 152.01,150.41 152.73,149.48 153.45,149.12 154.16,150.30 154.88,149.18 155.60,148.45 156.32,148.60 157.03,150.78 157.75,150.28 158.47,150.81 159.19,148.61 159.90,149.00 160.62,148.92 161.34,150.23 162.06,150.47 162.77,149.45 163.49,149.44" fill="none" stroke="#2a7a55" stroke-width="1.4" stroke-linejoin="round" opacity="1"/>
<polyline points="40.80,151.30 41.52,151.03 42.23,150.62 42.95,150.58 43.67,150.89 44.39,151.13 45.10,150.16 45.51,149.87 45.82,146.35 46.54,137.81 47.26,117.35 47.50,109.72 47.97,95.42 48.69,73.09 48.79,70.36 49.41,61.18 50.13,50.31 50.50,45.36 50.84,42.66 51.30,38.66 51.56,40.49 51.99,44.87 52.28,47.98 52.79,55.12 53.00,56.22 53.71,60.28 53.80,60.36 54.43,72.52 55.15,87.64 55.87,102.14 55.99,104.67 56.58,108.93 57.20,113.11 57.30,113.52 58.02,117.12 58.43,119.40 58.74,120.01 59.45,121.60 60.17,123.44 60.89,124.69 61.61,126.42 62.32,127.08 62.94,129.61 63.04,128.94 63.76,128.60 64.48,130.44 65.19,131.50 65.91,131.77 66.63,131.96 67.35,133.28 68.06,133.59 68.78,134.34 69.50,135.08 70.22,134.18 70.93,135.99 71.65,136.78 72.37,137.31 73.09,137.50 73.81,138.01 74.52,138.36 75.24,139.11 75.96,140.25 76.67,139.93 77.39,140.77 78.11,141.26 78.83,142.24 79.54,142.36 80.26,142.92 80.98,142.88 81.70,143.66 82.41,143.25 83.13,143.42 83.85,144.13 84.57,144.14 85.28,144.43 86.00,143.91 86.72,145.53 87.44,144.83 88.16,145.58 88.87,145.27 89.59,144.92 90.31,145.71 91.02,145.57 91.74,146.16 92.46,145.20 93.18,145.80 93.89,145.89 94.61,147.08 95.33,147.17 96.05,146.45 96.76,147.16 97.48,147.36 98.20,147.24 98.92,147.97 99.63,147.21 100.35,147.59 101.07,147.47 101.79,148.02 102.50,147.61 103.22,148.18 103.94,147.57 104.66,147.57 105.37,147.73 106.09,147.97 106.81,147.99 107.53,149.44 108.24,148.06 108.96,148.59 109.68,148.51 110.40,148.74 111.11,149.26 111.83,148.99 112.55,148.57 113.27,148.28 113.98,149.13 114.70,149.27 115.42,148.32 116.14,149.30 116.85,148.10 117.57,148.95 118.29,149.35 119.01,148.61 119.72,148.34 120.44,149.64 121.16,148.43 121.88,149.20 122.59,148.50 123.31,149.54 124.03,150.87 124.75,148.62 125.46,148.17 126.18,146.91 126.90,147.34 127.62,148.48 128.33,149.52 129.05,149.85 129.77,149.62 130.49,150.23 131.20,149.64 131.92,151.30 132.64,149.18 133.36,147.76 134.07,146.61 134.79,148.60 135.51,149.98 136.23,148.85 136.94,150.83 137.66,150.17 138.38,151.30 139.10,144.84 139.81,148.92 140.53,150.87 141.25,149.67 141.97,148.59 142.69,147.52 143.40,149.24 144.12,150.60 144.84,148.91 145.56,146.22 146.27,145.38 146.99,150.58 147.71,146.56 148.42,145.17 149.14,148.16 149.86,147.12 150.58,147.15 151.29,146.80 152.01,144.02 152.73,148.94 153.45,144.52 154.16,150.70 154.88,149.04 155.60,149.00 156.32,146.30 157.03,148.18 157.75,147.17 158.47,149.37 159.19,149.49 159.90,146.16 160.62,146.16 161.34,149.79 162.06,148.18 162.77,147.00 163.49,150.90 164.21,149.17 164.93,147.43 165.64,148.54 166.36,146.35 167.08,148.82 167.80,151.30 168.51,147.91 169.23,144.03 169.95,150.63 170.67,146.50 171.38,146.29 172.10,151.30 172.82,149.42 173.54,149.29 174.25,148.33 174.97,149.14 175.69,150.64 176.41,148.86 177.12,147.55 177.84,147.98 178.56,144.16 179.28,151.30 180.00,148.97 180.71,141.30 181.43,151.30 182.15,144.59 182.86,143.46 183.58,140.90 184.30,142.21 185.02,143.11 185.74,150.21 186.45,145.56 187.17,151.30 187.89,140.91 188.60,146.88 189.32,149.47 190.04,139.80 190.76,146.63 191.47,147.93 192.19,145.00 192.91,139.85 193.63,143.83 194.34,150.28 195.06,141.52 195.78,150.29 196.50,141.15 197.21,144.98 197.93,144.17 198.65,140.38 199.37,147.30 200.08,148.44 200.80,143.28 201.52,146.26 202.24,150.56 202.95,143.42 203.67,141.56 204.39,145.83 205.11,147.30 205.82,150.59 206.54,144.31 207.26,143.53 207.98,150.54 208.69,147.02 209.41,142.45 210.13,144.00 210.85,151.30 211.56,141.02 212.28,143.44 213.00,149.50 213.72,149.49 214.44,137.78 215.15,143.58 215.87,143.62 216.59,150.09 217.30,148.19 218.02,148.07 218.74,139.46 219.46,143.23 220.17,145.05 220.89,147.23 221.61,140.70 222.33,149.82 223.05,143.57 223.76,146.99 224.48,144.14 225.20,149.35" fill="none" stroke="#3aab4a" stroke-width="1.5" stroke-linejoin="round" opacity="1"/>
<text class="m" x="168.00" y="35.00" font-size="9.3" text-anchor="middle" font-weight="normal" fill="#231f20" textLength="52.50" lengthAdjust="spacingAndGlyphs">TXA (µg/mL)</text>
<line x1="140.60" y1="45.30" x2="153.60" y2="45.30" stroke="#3aab4a" stroke-width="1.3"/>
<text class="m" x="157.20" y="48.10" font-size="9.8" text-anchor="start" font-weight="normal" fill="#231f20" textLength="13.60" lengthAdjust="spacingAndGlyphs">0.0</text>
<line x1="140.60" y1="59.35" x2="153.60" y2="59.35" stroke="#1c3f7c" stroke-width="1.3"/>
<text class="m" x="157.20" y="62.15" font-size="9.8" text-anchor="start" font-weight="normal" fill="#231f20" textLength="13.60" lengthAdjust="spacingAndGlyphs">0.8</text>
<line x1="140.60" y1="73.40" x2="153.60" y2="73.40" stroke="#6466a6" stroke-width="1.3"/>
<text class="m" x="157.20" y="76.20" font-size="9.8" text-anchor="start" font-weight="normal" fill="#231f20" textLength="13.60" lengthAdjust="spacingAndGlyphs">1.5</text>
<line x1="140.60" y1="87.45" x2="153.60" y2="87.45" stroke="#4bb4e3" stroke-width="1.3"/>
<text class="m" x="157.20" y="90.25" font-size="9.8" text-anchor="start" font-weight="normal" fill="#231f20" textLength="13.60" lengthAdjust="spacingAndGlyphs">3.0</text>
<line x1="140.60" y1="101.50" x2="153.60" y2="101.50" stroke="#a9a9a9" stroke-width="1.3"/>
<text class="m" x="157.20" y="104.30" font-size="9.8" text-anchor="start" font-weight="normal" fill="#231f20" textLength="13.60" lengthAdjust="spacingAndGlyphs">6.0</text>
<line x1="183.40" y1="45.30" x2="196.00" y2="45.30" stroke="#1b6248" stroke-width="1.3"/>
<text class="m" x="199.40" y="48.10" font-size="9.8" text-anchor="start" font-weight="normal" fill="#231f20" textLength="19.00" lengthAdjust="spacingAndGlyphs">12.0</text>
<line x1="183.40" y1="59.35" x2="196.00" y2="59.35" stroke="#f7c31c" stroke-width="1.3"/>
<text class="m" x="199.40" y="62.15" font-size="9.8" text-anchor="start" font-weight="normal" fill="#231f20" textLength="19.00" lengthAdjust="spacingAndGlyphs">18.0</text>
<line x1="183.40" y1="73.40" x2="196.00" y2="73.40" stroke="#f39c23" stroke-width="1.3"/>
<text class="m" x="199.40" y="76.20" font-size="9.8" text-anchor="start" font-weight="normal" fill="#231f20" textLength="19.00" lengthAdjust="spacingAndGlyphs">27.0</text>
<line x1="183.40" y1="87.45" x2="196.00" y2="87.45" stroke="#e4705c" stroke-width="1.3"/>
<text class="m" x="199.40" y="90.25" font-size="9.8" text-anchor="start" font-weight="normal" fill="#231f20" textLength="19.00" lengthAdjust="spacingAndGlyphs">40.5</text>
<line x1="183.40" y1="101.50" x2="196.00" y2="101.50" stroke="#c1203e" stroke-width="1.3"/>
<text class="m" x="199.40" y="104.30" font-size="9.8" text-anchor="start" font-weight="normal" fill="#231f20" textLength="19.00" lengthAdjust="spacingAndGlyphs">60.8</text>
<text class="n" x="134.70" y="215.20" font-size="11.0" text-anchor="middle" font-weight="normal" fill="#231f20" textLength="74.90" lengthAdjust="spacingAndGlyphs">Saline (ex vivo)</text>
<line x1="42.90" y1="222.00" x2="42.90" y2="351.20" stroke="#231f20" stroke-width="1.2"/>
<line x1="38.90" y1="224.70" x2="42.90" y2="224.70" stroke="#231f20" stroke-width="1.2"/>
<text class="m" x="35.90" y="228.30" font-size="9.8" text-anchor="end" font-weight="normal" fill="#231f20">50</text>
<line x1="38.90" y1="250.00" x2="42.90" y2="250.00" stroke="#231f20" stroke-width="1.2"/>
<text class="m" x="35.90" y="253.60" font-size="9.8" text-anchor="end" font-weight="normal" fill="#231f20">40</text>
<line x1="38.90" y1="275.30" x2="42.90" y2="275.30" stroke="#231f20" stroke-width="1.2"/>
<text class="m" x="35.90" y="278.90" font-size="9.8" text-anchor="end" font-weight="normal" fill="#231f20">30</text>
<line x1="38.90" y1="300.60" x2="42.90" y2="300.60" stroke="#231f20" stroke-width="1.2"/>
<text class="m" x="35.90" y="304.20" font-size="9.8" text-anchor="end" font-weight="normal" fill="#231f20">20</text>
<line x1="38.90" y1="325.90" x2="42.90" y2="325.90" stroke="#231f20" stroke-width="1.2"/>
<text class="m" x="35.90" y="329.50" font-size="9.8" text-anchor="end" font-weight="normal" fill="#231f20">10</text>
<line x1="38.90" y1="351.20" x2="42.90" y2="351.20" stroke="#231f20" stroke-width="1.2"/>
<text class="m" x="35.90" y="354.80" font-size="9.8" text-anchor="end" font-weight="normal" fill="#231f20">0</text>
<line x1="42.90" y1="351.20" x2="236.30" y2="351.20" stroke="#231f20" stroke-width="1.2"/>
<line x1="42.90" y1="351.20" x2="42.90" y2="354.40" stroke="#231f20" stroke-width="1.2"/>
<text class="m" x="42.90" y="366.50" font-size="9.8" text-anchor="middle" font-weight="normal" fill="#231f20">0</text>
<line x1="106.40" y1="351.20" x2="106.40" y2="354.40" stroke="#231f20" stroke-width="1.2"/>
<text class="m" x="106.40" y="366.50" font-size="9.8" text-anchor="middle" font-weight="normal" fill="#231f20">10</text>
<line x1="169.90" y1="351.20" x2="169.90" y2="354.40" stroke="#231f20" stroke-width="1.2"/>
<text class="m" x="169.90" y="366.50" font-size="9.8" text-anchor="middle" font-weight="normal" fill="#231f20">20</text>
<line x1="233.40" y1="351.20" x2="233.40" y2="354.40" stroke="#231f20" stroke-width="1.2"/>
<text class="m" x="233.40" y="366.50" font-size="9.8" text-anchor="middle" font-weight="normal" fill="#231f20">30</text>
<text class="n" x="139.60" y="382.70" font-size="11.6" text-anchor="middle" font-weight="normal" fill="#231f20" textLength="61.50" lengthAdjust="spacingAndGlyphs">Time (minutes)</text>
<text class="n" transform="translate(20.10,286.40) rotate(-90)" x="0" y="0" font-size="11.0" text-anchor="middle" font-weight="normal" fill="#231f20" textLength="55.20" lengthAdjust="spacingAndGlyphs">Plasmin (nM)</text>
<polyline points="42.90,351.20 44.80,351.20 46.71,351.20 48.61,351.20 49.25,351.20 50.52,350.69 52.42,349.94 54.33,349.39 56.23,348.85 56.87,348.67 58.14,347.31 60.05,345.26 61.95,343.21 62.52,342.60 63.85,337.65 65.76,330.59 67.09,325.65 67.66,324.89 69.38,322.61 69.57,321.48 71.47,310.20 71.73,308.70 73.38,305.41 74.78,302.62 75.28,301.64 77.13,298.07 77.19,297.73 79.09,287.39 79.41,285.67 81.00,292.77 82.52,299.59 82.91,301.68 84.81,312.11 85.57,316.29 86.72,319.72 88.62,325.44 90.21,330.20 90.53,330.60 92.43,333.00 94.33,335.40 96.24,337.80 96.43,338.04 98.14,339.08 100.05,340.23 101.95,341.37 103.86,342.52 103.99,342.60 105.77,343.10 107.67,343.63 109.57,344.17 111.48,344.71 113.38,345.24 114.78,345.63 115.29,345.72 117.19,346.03 119.10,347.89 121.00,345.76 122.91,345.21 124.81,346.29 126.72,347.72 128.62,348.24 130.53,347.50 132.44,348.57 134.34,347.39 136.24,348.45 138.15,347.43 140.06,347.15 141.96,349.75 143.87,348.00 145.77,348.77 147.67,349.34 149.58,348.75 151.49,348.47 153.39,347.54 155.29,349.50 157.20,347.57 159.10,346.85 161.01,347.95 162.91,348.01 164.82,348.46 166.72,349.36 168.63,348.08 170.53,348.22 172.44,347.97 174.34,346.60 176.25,348.02 178.16,348.27 180.06,347.42 181.96,349.65 183.87,349.52 185.78,348.95 187.68,349.19 189.59,348.18 191.49,348.97 193.39,347.43 195.30,347.62 197.21,348.21 199.11,349.10 201.01,348.36 202.92,348.24 204.82,349.68 206.73,348.63 208.64,348.38 210.54,348.77 212.44,347.76 214.35,348.05 216.25,349.62 218.16,348.92 220.06,349.67 221.97,348.61 223.88,349.73 225.78,348.39 227.69,348.82 229.59,348.40 231.50,349.27 233.40,350.28" fill="none" stroke="#f1a920" stroke-width="1.5" stroke-linejoin="round" opacity="1"/>
<polyline points="42.90,351.20 44.80,351.20 46.71,351.20 48.61,351.20 50.52,351.20 52.42,351.20 54.33,349.96 56.23,348.73 58.14,347.49 60.05,346.25 61.00,345.63 61.95,336.78 63.85,319.07 64.81,310.21 65.76,303.06 67.66,288.75 68.68,281.12 69.57,262.23 70.20,248.74 71.47,247.47 71.73,247.22 73.32,251.77 73.38,251.64 74.78,248.74 75.28,247.42 77.13,242.66 77.19,243.21 78.71,256.32 79.09,262.00 80.17,278.08 81.00,284.48 82.52,296.30 82.91,298.23 84.81,307.87 85.57,311.73 86.72,315.54 88.62,321.88 90.21,327.16 90.53,327.49 92.43,329.42 94.33,331.36 96.24,333.30 96.43,333.49 98.14,334.87 100.05,336.40 101.95,337.93 103.86,339.46 103.99,339.56 105.77,339.91 107.67,340.29 109.57,340.67 111.48,341.04 111.67,341.08 113.38,341.75 115.29,342.50 117.19,343.25 119.10,344.25 121.00,345.53 122.91,344.51 124.81,343.83 126.72,345.04 128.62,345.61 130.53,344.16 132.44,346.97 134.34,345.69 136.24,347.00 138.15,346.72 140.06,346.88 141.96,346.00 143.87,348.05 145.77,347.91 147.67,348.87 149.58,347.44 151.49,348.31 153.39,347.79 155.29,349.08 157.20,348.69 159.10,347.78 161.01,348.85 162.91,348.40 164.82,348.62 166.72,349.44 168.63,350.51 170.53,348.69 172.44,349.34 174.34,348.75 176.25,351.06 178.16,350.82 180.06,351.20 181.96,350.29 183.87,348.86 185.78,349.25 187.68,349.74 189.59,349.64 191.49,349.20 193.39,350.03 195.30,349.53 197.21,349.76 199.11,351.20 201.01,350.22 202.92,348.92 204.82,350.29 206.73,350.12 208.64,350.51 210.54,350.44 212.44,349.25 214.35,350.34 216.25,350.94 218.16,351.20 220.06,350.66 221.97,351.20 223.88,351.20 225.78,349.72 227.69,349.81 229.59,351.20 231.50,349.76 233.40,350.09" fill="none" stroke="#1e6c5d" stroke-width="1.5" stroke-linejoin="round" opacity="1"/>
<polyline points="42.90,351.20 44.80,351.20 46.71,351.20 48.61,351.20 50.52,351.20 52.42,351.20 54.33,349.94 56.23,348.67 58.14,347.40 60.05,338.60 61.95,329.81 62.52,327.16 63.85,314.62 65.76,296.70 67.09,284.15 67.66,283.02 69.38,279.60 69.57,279.72 71.47,280.95 71.73,281.12 73.38,272.76 74.78,265.69 75.28,268.49 76.43,274.79 77.19,276.41 79.09,280.45 79.41,281.12 81.00,281.89 82.52,282.64 82.91,284.15 84.81,291.75 85.57,294.78 86.72,301.01 88.62,311.39 88.68,311.73 90.53,317.86 92.43,324.21 93.32,327.16 94.33,329.00 96.24,332.45 98.14,335.90 100.05,339.35 101.00,341.08 101.95,341.18 103.86,341.39 105.77,341.59 107.67,341.80 109.57,342.00 111.48,342.21 112.75,342.34 113.38,342.41 115.29,342.60 117.19,342.79 119.10,343.37 121.00,343.58 122.91,342.94 124.81,343.44 126.72,343.94 128.62,343.43 130.53,344.17 132.44,344.16 134.34,344.24 136.24,345.13 138.15,345.55 140.06,345.33 141.96,346.15 143.87,345.80 145.77,345.40 147.67,345.68 149.58,346.72 151.49,347.50 153.39,346.66 155.29,346.81 157.20,345.97 159.10,347.19 161.01,347.16 162.91,346.53 164.82,347.55 166.72,347.40 168.63,346.08 170.53,346.33 172.44,347.03 174.34,347.36 176.25,348.35 178.16,347.25 180.06,347.68 181.96,347.61 183.87,348.22 185.78,347.89 187.68,348.08 189.59,347.75 191.49,346.96 193.39,347.82 195.30,349.41 197.21,348.94 199.11,349.46 201.01,348.91 202.92,347.94 204.82,348.11 206.73,348.92 208.64,348.32 210.54,349.15 212.44,349.70 214.35,349.75 216.25,349.38 218.16,347.71 220.06,349.86 221.97,347.95 223.88,347.94 225.78,349.14 227.69,349.09 229.59,349.57 231.50,349.18 233.40,348.72" fill="none" stroke="#5b2b6e" stroke-width="1.5" stroke-linejoin="round" opacity="1"/>
<polyline points="42.90,351.20 44.80,351.20 46.71,351.20 48.61,351.20 50.52,351.20 52.42,351.20 54.33,349.68 56.23,348.16 58.14,346.65 58.77,346.14 60.05,337.01 61.95,323.31 63.85,309.61 63.98,308.70 65.76,291.73 66.39,285.67 67.66,282.44 69.38,278.08 69.57,276.59 71.47,261.61 71.73,259.61 73.32,270.24 73.38,270.28 75.28,271.55 75.60,271.76 77.13,284.15 77.19,285.02 78.71,305.66 79.09,301.57 81.00,281.12 82.52,279.60 82.91,281.12 84.81,288.71 86.72,310.64 87.10,315.02 88.62,320.97 90.21,327.16 90.53,327.64 92.43,330.51 94.33,333.37 96.24,336.24 96.43,336.53 98.14,338.23 100.05,340.13 101.95,342.03 102.53,342.60 103.86,342.53 105.77,342.44 107.67,342.34 109.57,342.25 111.48,342.15 112.75,342.09 113.38,342.23 115.29,342.63 117.19,343.04 119.10,343.34 121.00,343.58 122.91,343.57 124.81,344.33 126.72,343.55 128.62,344.37 130.53,344.35 132.44,342.87 134.34,343.78 136.24,345.41 138.15,345.27 140.06,343.81 141.96,339.35 143.87,338.73 145.77,342.46 147.67,346.86 149.58,345.80 151.49,345.59 153.39,345.89 155.29,343.14 157.20,342.82 159.10,344.34 161.01,345.65 162.91,346.97 164.82,347.77 166.72,345.60 168.63,347.70 170.53,346.50 172.44,346.09 174.34,348.38 176.25,347.57 178.16,348.18 180.06,347.65 181.96,347.92 183.87,344.91 185.78,343.21 187.68,346.70 189.59,347.87 191.49,348.95 193.39,349.04 195.30,347.08 197.21,349.43 199.11,349.19 201.01,348.81 202.92,349.67 204.82,350.49 206.73,348.10 208.64,349.52 210.54,349.36 212.44,349.25 214.35,346.22 216.25,344.93 218.16,346.91 220.06,347.18 221.97,348.55 223.88,348.64 225.78,350.46 227.69,349.43 229.59,350.42 231.50,349.04 233.40,349.90" fill="none" stroke="#2d5c8c" stroke-width="1.5" stroke-linejoin="round" opacity="1"/>
<polyline points="42.90,351.20 44.80,351.20 46.71,351.20 48.61,351.20 50.20,351.20 50.52,350.63 52.42,347.22 53.31,345.63 54.33,345.63 56.23,345.63 57.89,345.63 58.14,344.97 60.05,339.98 61.95,334.99 62.52,333.49 63.85,323.60 65.76,309.48 67.09,299.59 67.66,300.70 69.57,304.42 70.20,305.66 71.47,300.70 73.32,293.52 73.38,293.21 75.28,284.15 75.60,282.64 77.19,273.99 78.71,265.69 79.09,267.20 81.00,274.79 82.91,282.71 83.98,287.19 84.81,291.06 86.72,300.00 87.92,305.66 88.62,308.49 90.53,316.21 91.73,321.09 92.43,322.22 94.33,325.30 96.24,328.38 96.43,328.68 98.14,329.75 100.05,330.94 101.95,332.12 102.53,332.48 103.86,333.14 105.77,334.07 107.67,335.01 108.69,335.51 109.57,335.66 111.48,335.98 113.38,336.29 114.78,336.53 115.29,336.65 117.19,337.11 119.10,336.87 121.00,338.55 122.91,338.49 124.81,338.74 126.72,338.78 128.62,339.91 130.53,339.16 132.44,341.13 134.34,341.88 136.24,342.25 138.15,344.30 140.06,343.47 141.96,342.57 143.87,343.54 145.77,344.62 147.67,344.00 149.58,346.06 151.49,345.00 153.39,344.65 155.29,344.78 157.20,346.16 159.10,345.14 161.01,344.68 162.91,346.36 164.82,345.26 166.72,346.18 168.63,344.47 170.53,341.92 172.44,344.63 174.34,346.17 176.25,347.17 178.16,347.37 180.06,346.94 181.96,345.51 183.87,345.65 185.78,345.41 187.68,344.71 189.59,346.73 191.49,347.27 193.39,347.78 195.30,346.29 197.21,348.14 199.11,347.94 201.01,349.87 202.92,349.04 204.82,349.26 206.73,348.89 208.64,348.66 210.54,349.39 212.44,347.39 214.35,347.24 216.25,345.93 218.16,347.43 220.06,349.98 221.97,348.78 223.88,348.92 225.78,349.82 227.69,348.33 229.59,349.91 231.50,349.95 233.40,350.70" fill="none" stroke="#c5173f" stroke-width="1.5" stroke-linejoin="round" opacity="1"/>
<text class="m" x="198.40" y="236.20" font-size="9.0" text-anchor="middle" font-weight="normal" fill="#231f20" textLength="25.10" lengthAdjust="spacingAndGlyphs">Hours</text>
<line x1="185.90" y1="246.50" x2="198.90" y2="246.50" stroke="#c5173f" stroke-width="1.4"/>
<text class="m" x="202.80" y="249.60" font-size="9.4" text-anchor="start" font-weight="normal" fill="#231f20" textLength="13.20" lengthAdjust="spacingAndGlyphs">0.1</text>
<line x1="185.90" y1="262.33" x2="198.90" y2="262.33" stroke="#f1a920" stroke-width="1.4"/>
<text class="m" x="202.80" y="265.43" font-size="9.4" text-anchor="start" font-weight="normal" fill="#231f20" textLength="13.20" lengthAdjust="spacingAndGlyphs">1.5</text>
<line x1="185.90" y1="278.16" x2="198.90" y2="278.16" stroke="#1e6c5d" stroke-width="1.4"/>
<text class="m" x="202.80" y="281.26" font-size="9.4" text-anchor="start" font-weight="normal" fill="#231f20" textLength="13.20" lengthAdjust="spacingAndGlyphs">3.0</text>
<line x1="185.90" y1="293.99" x2="198.90" y2="293.99" stroke="#5b2b6e" stroke-width="1.4"/>
<text class="m" x="202.80" y="297.09" font-size="9.4" text-anchor="start" font-weight="normal" fill="#231f20" textLength="13.20" lengthAdjust="spacingAndGlyphs">4.5</text>
<line x1="185.90" y1="309.82" x2="198.90" y2="309.82" stroke="#2d5c8c" stroke-width="1.4"/>
<text class="m" x="202.80" y="312.92" font-size="9.4" text-anchor="start" font-weight="normal" fill="#231f20" textLength="13.20" lengthAdjust="spacingAndGlyphs">6.0</text>
<text class="n" x="405.90" y="215.20" font-size="11.0" text-anchor="middle" font-weight="normal" fill="#231f20" textLength="65.70" lengthAdjust="spacingAndGlyphs">TXA (ex vivo)</text>
<line x1="314.20" y1="222.00" x2="314.20" y2="351.20" stroke="#231f20" stroke-width="1.2"/>
<line x1="310.20" y1="224.70" x2="314.20" y2="224.70" stroke="#231f20" stroke-width="1.2"/>
<text class="m" x="307.20" y="228.30" font-size="9.8" text-anchor="end" font-weight="normal" fill="#231f20">50</text>
<line x1="310.20" y1="250.00" x2="314.20" y2="250.00" stroke="#231f20" stroke-width="1.2"/>
<text class="m" x="307.20" y="253.60" font-size="9.8" text-anchor="end" font-weight="normal" fill="#231f20">40</text>
<line x1="310.20" y1="275.30" x2="314.20" y2="275.30" stroke="#231f20" stroke-width="1.2"/>
<text class="m" x="307.20" y="278.90" font-size="9.8" text-anchor="end" font-weight="normal" fill="#231f20">30</text>
<line x1="310.20" y1="300.60" x2="314.20" y2="300.60" stroke="#231f20" stroke-width="1.2"/>
<text class="m" x="307.20" y="304.20" font-size="9.8" text-anchor="end" font-weight="normal" fill="#231f20">20</text>
<line x1="310.20" y1="325.90" x2="314.20" y2="325.90" stroke="#231f20" stroke-width="1.2"/>
<text class="m" x="307.20" y="329.50" font-size="9.8" text-anchor="end" font-weight="normal" fill="#231f20">10</text>
<line x1="310.20" y1="351.20" x2="314.20" y2="351.20" stroke="#231f20" stroke-width="1.2"/>
<text class="m" x="307.20" y="354.80" font-size="9.8" text-anchor="end" font-weight="normal" fill="#231f20">0</text>
<line x1="314.20" y1="351.20" x2="505.70" y2="351.20" stroke="#231f20" stroke-width="1.2"/>
<line x1="314.20" y1="351.20" x2="314.20" y2="354.40" stroke="#231f20" stroke-width="1.2"/>
<text class="m" x="314.20" y="366.50" font-size="9.8" text-anchor="middle" font-weight="normal" fill="#231f20">0</text>
<line x1="377.20" y1="351.20" x2="377.20" y2="354.40" stroke="#231f20" stroke-width="1.2"/>
<text class="m" x="377.20" y="366.50" font-size="9.8" text-anchor="middle" font-weight="normal" fill="#231f20">10</text>
<line x1="440.20" y1="351.20" x2="440.20" y2="354.40" stroke="#231f20" stroke-width="1.2"/>
<text class="m" x="440.20" y="366.50" font-size="9.8" text-anchor="middle" font-weight="normal" fill="#231f20">20</text>
<line x1="503.20" y1="351.20" x2="503.20" y2="354.40" stroke="#231f20" stroke-width="1.2"/>
<text class="m" x="503.20" y="366.50" font-size="9.8" text-anchor="middle" font-weight="normal" fill="#231f20">30</text>
<text class="n" x="410.10" y="382.70" font-size="11.6" text-anchor="middle" font-weight="normal" fill="#231f20" textLength="61.70" lengthAdjust="spacingAndGlyphs">Time (minutes)</text>
<text class="n" transform="translate(290.80,286.40) rotate(-90)" x="0" y="0" font-size="11.0" text-anchor="middle" font-weight="normal" fill="#231f20" textLength="55.20" lengthAdjust="spacingAndGlyphs">Plasmin (nM)</text>
<polyline points="314.20,351.20 316.09,349.47 317.98,347.74 319.87,346.00 320.00,345.89 321.76,345.21 323.65,344.48 324.59,344.12 325.54,343.19 327.43,341.33 327.68,341.08 329.32,341.06 331.21,341.04 333.10,341.02 334.99,341.00 336.88,340.98 338.77,340.96 340.66,340.94 342.55,340.92 344.44,340.90 346.33,340.88 348.22,340.85 350.11,340.83 350.74,340.83 352.00,342.37 353.01,343.61 353.89,343.61 355.78,343.61 357.67,343.61 359.56,343.61 361.45,343.61 363.34,343.61 365.23,343.61 367.12,343.61 369.01,343.61 370.90,343.61 372.16,343.61 372.79,344.07 374.68,345.43 375.31,345.89 376.57,344.96 378.40,343.61 378.46,343.61 380.35,343.61 382.24,343.61 384.13,343.61 386.02,343.61 387.91,343.61 389.80,343.61 391.69,343.61 393.58,343.61 395.47,344.98 396.73,345.89 397.36,345.53 399.25,344.47 401.14,343.61 403.03,343.61 404.92,343.61 406.81,343.61 408.70,343.61 410.59,343.61 412.48,343.61 414.37,343.61 416.26,343.61 418.15,343.61 420.04,343.61 421.93,343.61 423.82,343.61 425.71,343.61 427.60,343.61 429.49,343.61 431.38,344.88 433.27,346.14 435.16,346.14 437.05,346.14 438.94,347.40 440.83,347.40 442.72,347.40 444.61,347.40 446.50,347.40 448.39,347.40 450.28,346.14 452.17,346.14 454.06,346.14 455.95,346.14 457.84,346.14 459.73,346.14 461.62,346.14 463.51,346.14 465.40,347.40 467.29,347.40 469.18,347.40 471.07,347.40 472.96,346.14 474.85,344.88 476.74,343.61 478.63,343.61 480.52,344.88 482.41,344.88 484.30,346.14 486.19,346.14 488.08,346.14 489.97,346.14 491.86,347.40 493.75,347.40 495.64,347.40 497.53,347.40 499.42,347.40 501.31,347.40 503.20,347.40 505.09,348.67" fill="none" stroke="#b3204a" stroke-width="1.5" stroke-linejoin="round" opacity="1"/>
<polyline points="314.20,351.20 316.09,350.46 317.98,349.71 319.87,348.97 320.00,348.92 321.76,348.34 323.65,347.72 325.54,347.09 327.43,346.47 329.19,345.89 329.32,345.82 331.21,344.81 333.10,343.81 334.99,342.80 335.37,342.60 336.88,342.60 338.77,342.60 340.66,342.60 342.55,342.60 343.05,342.60 344.44,341.50 346.33,340.01 348.22,338.52 350.11,337.02 350.74,336.53 352.00,334.91 353.89,332.48 355.78,330.06 356.85,328.68 357.67,328.08 359.56,326.68 361.45,325.29 363.02,324.13 363.34,323.97 365.23,323.04 366.11,322.61 367.12,323.15 369.01,324.17 370.90,325.19 372.22,325.90 372.79,326.09 374.68,326.71 376.57,327.33 376.82,327.42 378.46,326.88 380.35,326.25 381.42,325.90 382.24,325.90 384.13,325.90 386.02,325.90 387.91,325.90 389.80,325.90 390.68,325.90 391.69,326.40 393.58,327.33 395.28,328.18 395.47,328.22 397.36,328.63 399.25,329.05 401.14,329.57 403.03,330.71 404.92,330.71 406.81,331.85 408.70,332.98 410.59,332.98 412.48,332.98 414.37,332.98 416.26,332.98 418.15,332.98 420.04,332.98 421.93,334.12 423.82,334.12 425.71,334.12 427.60,334.12 429.49,335.26 431.38,335.26 433.27,335.26 435.16,335.26 437.05,336.40 438.94,336.40 440.83,336.40 442.72,337.54 444.61,338.68 446.50,338.68 448.39,338.68 450.28,338.68 452.17,339.81 454.06,339.81 455.95,339.81 457.84,339.81 459.73,339.81 461.62,340.95 463.51,340.95 465.40,340.95 467.29,340.95 469.18,340.95 471.07,340.95 472.96,342.09 474.85,342.09 476.74,342.09 478.63,342.09 480.52,342.09 482.41,342.09 484.30,343.23 486.19,343.23 488.08,343.23 489.97,343.23 491.86,343.23 493.75,343.23 495.64,343.23 497.53,343.23 499.42,342.09 501.31,340.95 503.20,340.95 505.09,340.95" fill="none" stroke="#f1a54c" stroke-width="1.5" stroke-linejoin="round" opacity="1"/>
<polyline points="314.20,351.20 316.09,351.20 317.98,351.20 319.87,351.20 321.76,351.20 323.65,351.20 325.54,351.20 327.43,351.20 328.06,351.20 329.32,350.69 331.21,349.94 333.10,349.18 333.73,348.92 334.99,340.32 336.88,327.42 338.77,310.38 339.97,299.59 340.66,294.76 342.55,281.59 343.05,278.08 344.44,267.41 344.57,266.44 346.33,270.77 346.83,272.01 348.22,275.62 349.16,278.08 350.11,279.98 351.43,282.64 352.00,283.01 353.76,284.15 353.89,283.96 355.78,280.96 356.16,280.36 357.67,280.87 358.43,281.12 359.56,288.63 360.76,296.55 361.45,301.27 363.02,311.99 363.34,313.07 365.23,319.57 366.11,322.61 367.12,323.94 369.01,326.44 370.71,328.68 370.90,328.84 372.79,330.39 374.68,331.95 376.57,333.50 378.40,335.01 378.46,335.03 380.35,335.78 382.24,336.53 384.13,337.27 386.02,338.02 386.08,338.04 387.91,338.78 389.80,339.55 391.69,340.31 393.58,341.08 395.47,342.67 397.36,344.27 399.25,345.86 401.14,346.65 403.03,346.65 404.92,346.65 406.81,346.65 408.70,346.65 410.59,346.65 412.48,346.65 414.37,346.65 416.26,346.65 418.15,346.65 420.04,346.65 421.93,346.65 423.82,348.92 425.71,348.92 427.60,348.92 429.49,348.92 431.38,348.92 433.27,351.20 435.16,351.20 437.05,351.20 438.94,351.20 440.83,351.20 442.72,351.20 444.61,351.20 446.50,351.20 448.39,351.20 450.28,351.20 452.17,351.20 454.06,351.20 455.95,351.20 457.84,351.20 459.73,351.20 461.62,351.20 463.51,351.20 465.40,351.20 467.29,351.20 469.18,351.20 471.07,351.20 472.96,351.20 474.85,351.20 476.74,351.20 478.63,351.20 480.52,351.20 482.41,351.20 484.30,351.20 486.19,351.20 488.08,351.20 489.97,351.20 491.86,351.20 493.75,351.20 495.64,351.20 497.53,351.20 499.42,351.20 501.31,351.20 503.20,351.20 505.09,351.20" fill="none" stroke="#1f7965" stroke-width="1.5" stroke-linejoin="round" opacity="1"/>
<polyline points="314.20,351.20 316.09,351.20 317.98,351.20 319.87,351.20 321.76,351.20 323.65,351.20 325.54,351.20 327.43,348.09 329.32,344.98 330.77,342.60 331.21,339.20 333.10,324.65 334.99,310.09 335.37,307.18 336.88,289.81 337.64,281.12 338.77,272.77 339.97,278.08 340.66,274.60 341.48,270.49 342.55,268.26 343.05,267.20 344.44,271.61 344.57,272.01 346.33,280.28 346.83,282.64 348.22,268.29 348.47,265.69 349.92,262.65 350.11,264.15 352.00,279.12 352.25,281.12 353.89,292.27 354.52,296.55 355.78,304.07 356.85,310.47 357.67,313.29 359.56,319.79 359.94,321.09 361.45,323.17 363.34,325.77 364.54,327.42 365.23,327.88 367.12,329.12 369.01,330.37 369.14,330.45 370.90,331.15 372.79,331.90 374.68,332.64 376.57,333.39 376.82,333.49 378.46,334.14 380.35,334.88 382.24,335.63 384.13,336.38 384.51,336.53 386.02,336.82 387.91,337.20 389.80,337.57 391.69,337.94 392.19,338.04 393.58,338.55 395.47,339.23 397.36,339.91 399.25,340.60 401.14,339.81 403.03,342.09 404.92,342.09 406.81,342.09 408.70,342.09 410.59,342.09 412.48,342.09 414.37,342.09 416.26,342.09 418.15,342.09 420.04,342.09 421.93,342.09 423.82,342.09 425.71,344.37 427.60,344.37 429.49,344.37 431.38,344.37 433.27,344.37 435.16,344.37 437.05,344.37 438.94,344.37 440.83,344.37 442.72,344.37 444.61,344.37 446.50,344.37 448.39,346.65 450.28,346.65 452.17,346.65 454.06,346.65 455.95,346.65 457.84,346.65 459.73,346.65 461.62,346.65 463.51,346.65 465.40,346.65 467.29,346.65 469.18,346.65 471.07,346.65 472.96,348.92 474.85,348.92 476.74,348.92 478.63,348.92 480.52,348.92 482.41,348.92 484.30,348.92 486.19,348.92 488.08,348.92 489.97,348.92 491.86,348.92 493.75,348.92 495.64,348.92 497.53,348.92 499.42,348.92 501.31,348.92 503.20,348.92 505.09,348.92" fill="none" stroke="#4c2b6b" stroke-width="1.5" stroke-linejoin="round" opacity="1"/>
<polyline points="314.20,351.20 316.09,351.20 317.98,351.20 319.87,351.20 321.76,351.20 323.65,351.20 325.54,351.20 326.80,351.20 327.43,350.57 329.32,348.67 331.21,346.77 333.10,344.88 334.99,328.35 335.94,320.08 336.88,308.79 338.45,289.97 338.77,287.64 340.47,275.05 340.66,273.97 341.98,266.44 342.55,267.44 343.43,268.98 344.44,265.60 344.94,263.91 346.33,257.47 347.34,252.78 348.22,261.49 348.85,267.71 350.11,270.75 350.43,271.50 352.00,284.91 353.89,294.60 354.96,300.09 355.78,304.22 357.67,313.75 357.92,315.02 359.56,319.13 361.45,323.88 361.95,325.14 363.34,325.98 365.23,327.12 367.12,328.27 369.01,329.41 369.89,329.95 370.90,330.36 372.79,331.14 374.68,331.92 376.57,332.70 378.46,333.48 379.72,334.00 380.35,334.12 382.24,334.50 384.13,334.88 386.02,335.26 387.91,335.64 389.80,336.02 391.69,335.83 393.58,335.64 395.47,335.45 397.36,335.26 399.25,335.07 401.14,332.98 403.03,332.98 404.92,337.54 406.81,339.81 408.70,339.81 410.59,339.81 412.48,339.81 414.37,339.81 416.26,339.81 418.15,339.81 420.04,339.81 421.93,339.81 423.82,339.81 425.71,339.81 427.60,339.81 429.49,339.81 431.38,342.09 433.27,342.09 435.16,342.09 437.05,342.09 438.94,342.09 440.83,342.09 442.72,342.09 444.61,342.09 446.50,342.09 448.39,342.09 450.28,342.09 452.17,342.09 454.06,344.37 455.95,344.37 457.84,344.37 459.73,346.65 461.62,346.65 463.51,346.65 465.40,346.65 467.29,346.65 469.18,346.65 471.07,346.65 472.96,346.65 474.85,346.65 476.74,346.65 478.63,344.37 480.52,342.09 482.41,344.37 484.30,346.65 486.19,346.65 488.08,346.65 489.97,346.65 491.86,348.92 493.75,348.92 495.64,348.92 497.53,348.92 499.42,348.92 501.31,348.92 503.20,348.92 505.09,348.92" fill="none" stroke="#2b5c9e" stroke-width="1.5" stroke-linejoin="round" opacity="1"/>
<text class="m" x="475.00" y="237.50" font-size="9.0" text-anchor="middle" font-weight="normal" fill="#231f20" textLength="24.80" lengthAdjust="spacingAndGlyphs">Hours</text>
<line x1="462.60" y1="248.30" x2="475.70" y2="248.30" stroke="#b3204a" stroke-width="1.4"/>
<text class="m" x="479.50" y="251.40" font-size="9.4" text-anchor="start" font-weight="normal" fill="#231f20" textLength="13.00" lengthAdjust="spacingAndGlyphs">0.1</text>
<line x1="462.60" y1="262.93" x2="475.70" y2="262.93" stroke="#f1a54c" stroke-width="1.4"/>
<text class="m" x="479.50" y="266.03" font-size="9.4" text-anchor="start" font-weight="normal" fill="#231f20" textLength="13.00" lengthAdjust="spacingAndGlyphs">1.5</text>
<line x1="462.60" y1="277.56" x2="475.70" y2="277.56" stroke="#1f7965" stroke-width="1.4"/>
<text class="m" x="479.50" y="280.66" font-size="9.4" text-anchor="start" font-weight="normal" fill="#231f20" textLength="13.00" lengthAdjust="spacingAndGlyphs">3.0</text>
<line x1="462.60" y1="292.19" x2="475.70" y2="292.19" stroke="#4c2b6b" stroke-width="1.4"/>
<text class="m" x="479.50" y="295.29" font-size="9.4" text-anchor="start" font-weight="normal" fill="#231f20" textLength="13.00" lengthAdjust="spacingAndGlyphs">4.5</text>
<line x1="462.60" y1="306.82" x2="475.70" y2="306.82" stroke="#2b5c9e" stroke-width="1.4"/>
<text class="m" x="479.50" y="309.92" font-size="9.4" text-anchor="start" font-weight="normal" fill="#231f20" textLength="13.00" lengthAdjust="spacingAndGlyphs">6.0</text>
<line x1="44.40" y1="421.90" x2="44.40" y2="449.20" stroke="#231f20" stroke-width="1.2"/>
<line x1="41.10" y1="452.40" x2="47.70" y2="446.00" stroke="#231f20" stroke-width="1.2"/>
<line x1="41.10" y1="462.00" x2="47.70" y2="455.60" stroke="#231f20" stroke-width="1.2"/>
<line x1="44.40" y1="458.80" x2="44.40" y2="551.30" stroke="#231f20" stroke-width="1.2"/>
<line x1="40.60" y1="434.30" x2="44.40" y2="434.30" stroke="#231f20" stroke-width="1.2"/>
<text class="m" x="37.60" y="437.90" font-size="9.8" text-anchor="end" font-weight="normal" fill="#231f20">120</text>
<line x1="40.60" y1="477.30" x2="44.40" y2="477.30" stroke="#231f20" stroke-width="1.2"/>
<text class="m" x="37.60" y="480.90" font-size="9.8" text-anchor="end" font-weight="normal" fill="#231f20">40</text>
<line x1="40.60" y1="495.80" x2="44.40" y2="495.80" stroke="#231f20" stroke-width="1.2"/>
<text class="m" x="37.60" y="499.40" font-size="9.8" text-anchor="end" font-weight="normal" fill="#231f20">30</text>
<line x1="40.60" y1="514.30" x2="44.40" y2="514.30" stroke="#231f20" stroke-width="1.2"/>
<text class="m" x="37.60" y="517.90" font-size="9.8" text-anchor="end" font-weight="normal" fill="#231f20">20</text>
<line x1="40.60" y1="532.80" x2="44.40" y2="532.80" stroke="#231f20" stroke-width="1.2"/>
<text class="m" x="37.60" y="536.40" font-size="9.8" text-anchor="end" font-weight="normal" fill="#231f20">10</text>
<line x1="40.60" y1="551.30" x2="44.40" y2="551.30" stroke="#231f20" stroke-width="1.2"/>
<text class="m" x="37.60" y="554.90" font-size="9.8" text-anchor="end" font-weight="normal" fill="#231f20">0</text>
<text class="m" x="37.60" y="462.40" font-size="9.8" text-anchor="end" font-weight="normal" fill="#231f20">50</text>
<line x1="44.40" y1="551.30" x2="237.00" y2="551.30" stroke="#231f20" stroke-width="1.2"/>
<line x1="44.40" y1="551.30" x2="44.40" y2="554.50" stroke="#231f20" stroke-width="1.2"/>
<text class="m" x="44.40" y="566.60" font-size="9.8" text-anchor="middle" font-weight="normal" fill="#231f20">0</text>
<line x1="75.90" y1="551.30" x2="75.90" y2="554.50" stroke="#231f20" stroke-width="1.2"/>
<text class="m" x="75.90" y="566.60" font-size="9.8" text-anchor="middle" font-weight="normal" fill="#231f20">1</text>
<line x1="107.40" y1="551.30" x2="107.40" y2="554.50" stroke="#231f20" stroke-width="1.2"/>
<text class="m" x="107.40" y="566.60" font-size="9.8" text-anchor="middle" font-weight="normal" fill="#231f20">2</text>
<line x1="138.90" y1="551.30" x2="138.90" y2="554.50" stroke="#231f20" stroke-width="1.2"/>
<text class="m" x="138.90" y="566.60" font-size="9.8" text-anchor="middle" font-weight="normal" fill="#231f20">3</text>
<line x1="170.40" y1="551.30" x2="170.40" y2="554.50" stroke="#231f20" stroke-width="1.2"/>
<text class="m" x="170.40" y="566.60" font-size="9.8" text-anchor="middle" font-weight="normal" fill="#231f20">4</text>
<line x1="201.90" y1="551.30" x2="201.90" y2="554.50" stroke="#231f20" stroke-width="1.2"/>
<text class="m" x="201.90" y="566.60" font-size="9.8" text-anchor="middle" font-weight="normal" fill="#231f20">5</text>
<line x1="233.40" y1="551.30" x2="233.40" y2="554.50" stroke="#231f20" stroke-width="1.2"/>
<text class="m" x="233.40" y="566.60" font-size="9.8" text-anchor="middle" font-weight="normal" fill="#231f20">6</text>
<text class="n" x="140.60" y="581.90" font-size="11.6" text-anchor="middle" font-weight="normal" fill="#231f20" textLength="117.50" lengthAdjust="spacingAndGlyphs">Time after IP injection (hours)</text>
<text class="n" transform="translate(15.20,487.90) rotate(-90)" x="0" y="0" font-size="11.0" text-anchor="middle" font-weight="normal" fill="#231f20" textLength="76.70" lengthAdjust="spacingAndGlyphs">Lag time (minutes)</text>
<path d="M47.50,434.30 C48.95,434.92 53.70,436.58 56.20,438.00 C58.70,439.42 60.57,441.03 62.50,442.80 C64.43,444.57 66.92,447.63 67.80,448.60" fill="none" stroke="#b30f3a" stroke-width="1.6" stroke-linecap="butt"/>
<path d="M82.60,459.10 C83.30,461.93 85.38,470.45 86.80,476.10 C88.22,481.75 89.52,487.53 91.10,493.00 C92.68,498.47 94.02,503.43 96.30,508.90 C98.58,514.37 101.62,520.87 104.80,525.80 C107.98,530.73 111.52,535.43 115.40,538.50 C119.28,541.57 124.22,543.02 128.10,544.20 C131.98,545.38 133.38,545.30 138.70,545.60 C144.02,545.90 144.22,545.93 160.00,546.00 C175.78,546.07 221.17,546.00 233.40,546.00" fill="none" stroke="#b30f3a" stroke-width="1.6" stroke-linecap="butt"/>
<line x1="47.55" y1="546.40" x2="233.40" y2="546.40" stroke="#285891" stroke-width="1.5"/>
<g stroke="#c8102e" stroke-width="0.9" opacity="0.85"><line x1="91.65" y1="475.40" x2="91.65" y2="511.60"/><line x1="88.65" y1="475.40" x2="94.65" y2="475.40"/><line x1="88.65" y1="511.60" x2="94.65" y2="511.60"/></g>
<circle cx="47.55" cy="434.30" r="3.3" fill="#c8102e"/>
<circle cx="91.65" cy="493.80" r="3.3" fill="#c8102e"/>
<circle cx="138.90" cy="545.00" r="3.3" fill="#c8102e"/>
<circle cx="233.40" cy="545.00" r="3.3" fill="#c8102e"/>
<circle cx="47.55" cy="546.30" r="3.3" fill="#1d4f86"/>
<circle cx="91.65" cy="546.30" r="3.3" fill="#1d4f86"/>
<circle cx="138.90" cy="546.80" r="3.3" fill="#1d4f86"/>
<circle cx="186.15" cy="546.50" r="3.3" fill="#1d4f86"/>
<circle cx="233.40" cy="546.30" r="3.3" fill="#1d4f86"/>
<text x="56.00" y="435.48" font-size="9.0" font-weight="bold" text-anchor="middle" fill="#231f20" stroke="#231f20" stroke-width="0.5">*</text>
<text x="60.33" y="435.48" font-size="9.0" font-weight="bold" text-anchor="middle" fill="#231f20" stroke="#231f20" stroke-width="0.5">*</text>
<text x="64.67" y="435.48" font-size="9.0" font-weight="bold" text-anchor="middle" fill="#231f20" stroke="#231f20" stroke-width="0.5">*</text>
<text x="69.00" y="435.48" font-size="9.0" font-weight="bold" text-anchor="middle" fill="#231f20" stroke="#231f20" stroke-width="0.5">*</text>
<text x="101.00" y="498.38" font-size="9.0" font-weight="bold" text-anchor="middle" fill="#231f20" stroke="#231f20" stroke-width="0.5">*</text>
<text x="105.30" y="498.38" font-size="9.0" font-weight="bold" text-anchor="middle" fill="#231f20" stroke="#231f20" stroke-width="0.5">*</text>
<text x="109.60" y="498.38" font-size="9.0" font-weight="bold" text-anchor="middle" fill="#231f20" stroke="#231f20" stroke-width="0.5">*</text>
<text x="113.90" y="498.38" font-size="9.0" font-weight="bold" text-anchor="middle" fill="#231f20" stroke="#231f20" stroke-width="0.5">*</text>
<line x1="319.40" y1="420.30" x2="319.40" y2="447.60" stroke="#231f20" stroke-width="1.2"/>
<line x1="316.10" y1="450.80" x2="322.70" y2="444.40" stroke="#231f20" stroke-width="1.2"/>
<line x1="316.10" y1="460.80" x2="322.70" y2="454.40" stroke="#231f20" stroke-width="1.2"/>
<line x1="319.40" y1="457.60" x2="319.40" y2="549.70" stroke="#231f20" stroke-width="1.2"/>
<line x1="315.50" y1="429.60" x2="319.40" y2="429.60" stroke="#231f20" stroke-width="1.2"/>
<text class="m" x="312.60" y="433.20" font-size="9.8" text-anchor="end" font-weight="normal" fill="#231f20">120</text>
<line x1="315.50" y1="476.18" x2="319.40" y2="476.18" stroke="#231f20" stroke-width="1.2"/>
<text class="m" x="312.60" y="479.78" font-size="9.8" text-anchor="end" font-weight="normal" fill="#231f20">40</text>
<line x1="315.50" y1="494.56" x2="319.40" y2="494.56" stroke="#231f20" stroke-width="1.2"/>
<text class="m" x="312.60" y="498.16" font-size="9.8" text-anchor="end" font-weight="normal" fill="#231f20">30</text>
<line x1="315.50" y1="512.94" x2="319.40" y2="512.94" stroke="#231f20" stroke-width="1.2"/>
<text class="m" x="312.60" y="516.54" font-size="9.8" text-anchor="end" font-weight="normal" fill="#231f20">20</text>
<line x1="315.50" y1="531.32" x2="319.40" y2="531.32" stroke="#231f20" stroke-width="1.2"/>
<text class="m" x="312.60" y="534.92" font-size="9.8" text-anchor="end" font-weight="normal" fill="#231f20">10</text>
<line x1="315.50" y1="549.70" x2="319.40" y2="549.70" stroke="#231f20" stroke-width="1.2"/>
<text class="m" x="312.60" y="553.30" font-size="9.8" text-anchor="end" font-weight="normal" fill="#231f20">0</text>
<text class="m" x="312.60" y="461.40" font-size="9.8" text-anchor="end" font-weight="normal" fill="#231f20">50</text>
<line x1="319.40" y1="549.70" x2="512.50" y2="549.70" stroke="#231f20" stroke-width="1.2"/>
<line x1="319.40" y1="549.70" x2="319.40" y2="552.90" stroke="#231f20" stroke-width="1.2"/>
<text class="m" x="319.40" y="565.00" font-size="9.8" text-anchor="middle" font-weight="normal" fill="#231f20">0</text>
<line x1="350.95" y1="549.70" x2="350.95" y2="552.90" stroke="#231f20" stroke-width="1.2"/>
<text class="m" x="350.95" y="565.00" font-size="9.8" text-anchor="middle" font-weight="normal" fill="#231f20">1</text>
<line x1="382.50" y1="549.70" x2="382.50" y2="552.90" stroke="#231f20" stroke-width="1.2"/>
<text class="m" x="382.50" y="565.00" font-size="9.8" text-anchor="middle" font-weight="normal" fill="#231f20">2</text>
<line x1="414.05" y1="549.70" x2="414.05" y2="552.90" stroke="#231f20" stroke-width="1.2"/>
<text class="m" x="414.05" y="565.00" font-size="9.8" text-anchor="middle" font-weight="normal" fill="#231f20">3</text>
<line x1="445.60" y1="549.70" x2="445.60" y2="552.90" stroke="#231f20" stroke-width="1.2"/>
<text class="m" x="445.60" y="565.00" font-size="9.8" text-anchor="middle" font-weight="normal" fill="#231f20">4</text>
<line x1="477.15" y1="549.70" x2="477.15" y2="552.90" stroke="#231f20" stroke-width="1.2"/>
<text class="m" x="477.15" y="565.00" font-size="9.8" text-anchor="middle" font-weight="normal" fill="#231f20">5</text>
<line x1="508.70" y1="549.70" x2="508.70" y2="552.90" stroke="#231f20" stroke-width="1.2"/>
<text class="m" x="508.70" y="565.00" font-size="9.8" text-anchor="middle" font-weight="normal" fill="#231f20">6</text>
<text class="n" x="415.90" y="581.90" font-size="11.6" text-anchor="middle" font-weight="normal" fill="#231f20" textLength="118.00" lengthAdjust="spacingAndGlyphs">Time after IP injection (hours)</text>
<text class="n" transform="translate(290.10,488.10) rotate(-90)" x="0" y="0" font-size="11.0" text-anchor="middle" font-weight="normal" fill="#231f20" textLength="67.70" lengthAdjust="spacingAndGlyphs">TtPeak (minutes)</text>
<line x1="322.55" y1="541.00" x2="508.70" y2="541.00" stroke="#285891" stroke-width="1.5"/>
<path d="M322.50,429.60 C323.95,430.17 328.35,431.38 331.20,433.00 C334.05,434.62 336.97,437.02 339.60,439.30 C342.23,441.58 345.77,445.47 347.00,446.70" fill="none" stroke="#b30f3a" stroke-width="1.6" stroke-linecap="butt"/>
<path d="M361.20,458.40 C361.65,460.33 362.98,466.30 363.90,470.00 C364.82,473.70 365.63,476.37 366.70,480.60 C367.77,484.83 368.82,490.47 370.30,495.40 C371.78,500.33 373.32,505.27 375.60,510.20 C377.88,515.13 380.83,520.95 384.00,525.00 C387.17,529.05 391.07,532.25 394.60,534.50 C398.13,536.75 402.02,537.68 405.20,538.50 C408.38,539.32 407.90,539.18 413.70,539.40 C419.50,539.62 424.17,539.72 440.00,539.80 C455.83,539.88 497.25,539.88 508.70,539.90" fill="none" stroke="#b30f3a" stroke-width="1.6" stroke-linecap="butt"/>
<g stroke="#c8102e" stroke-width="0.9" opacity="0.85"><line x1="366.72" y1="465.10" x2="366.72" y2="495.40"/><line x1="363.72" y1="465.10" x2="369.72" y2="465.10"/><line x1="363.72" y1="495.40" x2="369.72" y2="495.40"/></g>
<circle cx="322.55" cy="429.60" r="3.3" fill="#c8102e"/>
<circle cx="366.72" cy="480.30" r="3.3" fill="#c8102e"/>
<circle cx="414.05" cy="539.00" r="3.3" fill="#c8102e"/>
<circle cx="461.38" cy="539.30" r="3.3" fill="#c8102e"/>
<circle cx="508.70" cy="540.00" r="3.3" fill="#c8102e"/>
<circle cx="322.55" cy="540.90" r="3.3" fill="#1d4f86"/>
<circle cx="366.72" cy="540.60" r="3.3" fill="#1d4f86"/>
<circle cx="414.05" cy="541.90" r="3.3" fill="#1d4f86"/>
<circle cx="461.38" cy="540.60" r="3.3" fill="#1d4f86"/>
<circle cx="508.70" cy="541.20" r="3.3" fill="#1d4f86"/>
<text x="332.00" y="430.38" font-size="9.0" font-weight="bold" text-anchor="middle" fill="#231f20" stroke="#231f20" stroke-width="0.5">*</text>
<text x="336.30" y="430.38" font-size="9.0" font-weight="bold" text-anchor="middle" fill="#231f20" stroke="#231f20" stroke-width="0.5">*</text>
<text x="340.60" y="430.38" font-size="9.0" font-weight="bold" text-anchor="middle" fill="#231f20" stroke="#231f20" stroke-width="0.5">*</text>
<text x="344.90" y="430.38" font-size="9.0" font-weight="bold" text-anchor="middle" fill="#231f20" stroke="#231f20" stroke-width="0.5">*</text>
<text x="376.00" y="484.08" font-size="9.0" font-weight="bold" text-anchor="middle" fill="#231f20" stroke="#231f20" stroke-width="0.5">*</text>
<text x="380.30" y="484.08" font-size="9.0" font-weight="bold" text-anchor="middle" fill="#231f20" stroke="#231f20" stroke-width="0.5">*</text>
<text x="384.60" y="484.08" font-size="9.0" font-weight="bold" text-anchor="middle" fill="#231f20" stroke="#231f20" stroke-width="0.5">*</text>
<text x="388.90" y="484.08" font-size="9.0" font-weight="bold" text-anchor="middle" fill="#231f20" stroke="#231f20" stroke-width="0.5">*</text>
<line x1="43.00" y1="623.70" x2="43.00" y2="753.00" stroke="#231f20" stroke-width="1.2"/>
<line x1="39.20" y1="626.80" x2="43.00" y2="626.80" stroke="#231f20" stroke-width="1.2"/>
<text class="m" x="36.20" y="630.40" font-size="9.8" text-anchor="end" font-weight="normal" fill="#231f20">40</text>
<line x1="39.20" y1="658.35" x2="43.00" y2="658.35" stroke="#231f20" stroke-width="1.2"/>
<text class="m" x="36.20" y="661.95" font-size="9.8" text-anchor="end" font-weight="normal" fill="#231f20">30</text>
<line x1="39.20" y1="689.90" x2="43.00" y2="689.90" stroke="#231f20" stroke-width="1.2"/>
<text class="m" x="36.20" y="693.50" font-size="9.8" text-anchor="end" font-weight="normal" fill="#231f20">20</text>
<line x1="39.20" y1="721.45" x2="43.00" y2="721.45" stroke="#231f20" stroke-width="1.2"/>
<text class="m" x="36.20" y="725.05" font-size="9.8" text-anchor="end" font-weight="normal" fill="#231f20">10</text>
<line x1="39.20" y1="753.00" x2="43.00" y2="753.00" stroke="#231f20" stroke-width="1.2"/>
<text class="m" x="36.20" y="756.60" font-size="9.8" text-anchor="end" font-weight="normal" fill="#231f20">0</text>
<line x1="43.00" y1="753.00" x2="235.60" y2="753.00" stroke="#231f20" stroke-width="1.2"/>
<line x1="43.00" y1="753.00" x2="43.00" y2="756.20" stroke="#231f20" stroke-width="1.2"/>
<text class="m" x="43.00" y="768.30" font-size="9.8" text-anchor="middle" font-weight="normal" fill="#231f20">0</text>
<line x1="74.55" y1="753.00" x2="74.55" y2="756.20" stroke="#231f20" stroke-width="1.2"/>
<text class="m" x="74.55" y="768.30" font-size="9.8" text-anchor="middle" font-weight="normal" fill="#231f20">1</text>
<line x1="106.10" y1="753.00" x2="106.10" y2="756.20" stroke="#231f20" stroke-width="1.2"/>
<text class="m" x="106.10" y="768.30" font-size="9.8" text-anchor="middle" font-weight="normal" fill="#231f20">2</text>
<line x1="137.65" y1="753.00" x2="137.65" y2="756.20" stroke="#231f20" stroke-width="1.2"/>
<text class="m" x="137.65" y="768.30" font-size="9.8" text-anchor="middle" font-weight="normal" fill="#231f20">3</text>
<line x1="169.20" y1="753.00" x2="169.20" y2="756.20" stroke="#231f20" stroke-width="1.2"/>
<text class="m" x="169.20" y="768.30" font-size="9.8" text-anchor="middle" font-weight="normal" fill="#231f20">4</text>
<line x1="200.75" y1="753.00" x2="200.75" y2="756.20" stroke="#231f20" stroke-width="1.2"/>
<text class="m" x="200.75" y="768.30" font-size="9.8" text-anchor="middle" font-weight="normal" fill="#231f20">5</text>
<line x1="232.30" y1="753.00" x2="232.30" y2="756.20" stroke="#231f20" stroke-width="1.2"/>
<text class="m" x="232.30" y="768.30" font-size="9.8" text-anchor="middle" font-weight="normal" fill="#231f20">6</text>
<text class="n" x="140.70" y="784.20" font-size="11.6" text-anchor="middle" font-weight="normal" fill="#231f20" textLength="117.40" lengthAdjust="spacingAndGlyphs">Time after IP injection (hours)</text>
<text class="n" transform="translate(14.90,688.10) rotate(-90)" x="0" y="0" font-size="11.0" text-anchor="middle" font-weight="normal" fill="#231f20" textLength="85.20" lengthAdjust="spacingAndGlyphs">Velocity (nM/minute)</text>
<g stroke="#285891" stroke-width="0.9" opacity="0.85"><line x1="46.16" y1="658.25" x2="46.16" y2="693.25"/><line x1="43.16" y1="658.25" x2="49.16" y2="658.25"/><line x1="43.16" y1="693.25" x2="49.16" y2="693.25"/></g>
<g stroke="#285891" stroke-width="0.9" opacity="0.85"><line x1="90.33" y1="657.00" x2="90.33" y2="699.20"/><line x1="87.33" y1="657.00" x2="93.33" y2="657.00"/><line x1="87.33" y1="699.20" x2="93.33" y2="699.20"/></g>
<g stroke="#285891" stroke-width="0.9" opacity="0.85"><line x1="137.65" y1="637.70" x2="137.65" y2="665.70"/><line x1="134.65" y1="637.70" x2="140.65" y2="637.70"/><line x1="134.65" y1="665.70" x2="140.65" y2="665.70"/></g>
<g stroke="#285891" stroke-width="0.9" opacity="0.85"><line x1="184.97" y1="646.30" x2="184.97" y2="686.10"/><line x1="181.97" y1="646.30" x2="187.97" y2="646.30"/><line x1="181.97" y1="686.10" x2="187.97" y2="686.10"/></g>
<g stroke="#285891" stroke-width="0.9" opacity="0.85"><line x1="232.30" y1="641.20" x2="232.30" y2="670.60"/><line x1="229.30" y1="641.20" x2="235.30" y2="641.20"/><line x1="229.30" y1="670.60" x2="235.30" y2="670.60"/></g>
<line x1="46.16" y1="673.27" x2="232.30" y2="659.68" stroke="#285891" stroke-width="1.5"/>
<path d="M46.16,752.99 C46.94,752.98 49.28,752.98 50.85,752.98 C52.41,752.97 53.98,752.97 55.54,752.96 C57.10,752.95 58.67,752.94 60.23,752.92 C61.80,752.90 63.36,752.89 64.93,752.86 C66.49,752.83 68.05,752.79 69.62,752.74 C71.18,752.68 72.75,752.63 74.31,752.53 C75.88,752.43 77.44,752.32 79.00,752.15 C80.57,751.97 82.13,751.78 83.70,751.47 C85.26,751.16 86.83,750.81 88.39,750.27 C89.95,749.72 91.52,749.12 93.08,748.19 C94.65,747.26 96.21,746.21 97.78,744.71 C99.34,743.21 100.90,741.44 102.47,739.19 C104.03,736.94 105.60,734.24 107.16,731.20 C108.72,728.16 110.29,724.54 111.85,720.97 C113.42,717.40 114.98,713.37 116.55,709.79 C118.11,706.21 119.67,702.56 121.24,699.49 C122.80,696.42 124.37,693.67 125.93,691.39 C127.50,689.10 129.06,687.30 130.62,685.77 C132.19,684.24 133.75,683.16 135.32,682.21 C136.88,681.26 138.45,680.64 140.01,680.08 C141.57,679.52 143.14,679.17 144.70,678.85 C146.27,678.53 147.83,678.34 149.40,678.15 C150.96,677.97 152.52,677.87 154.09,677.77 C155.65,677.66 157.22,677.60 158.78,677.55 C160.34,677.49 161.91,677.46 163.47,677.43 C165.04,677.40 166.60,677.38 168.17,677.36 C169.73,677.34 171.29,677.33 172.86,677.33 C174.42,677.32 175.99,677.31 177.55,677.30 C179.12,677.30 180.68,677.30 182.24,677.29 C183.81,677.29 185.37,677.29 186.94,677.29 C188.50,677.29 190.07,677.29 191.63,677.28 C193.19,677.28 194.76,677.28 196.32,677.28 C197.89,677.28 199.45,677.28 201.02,677.28 C202.58,677.28 204.14,677.28 205.71,677.28 C207.27,677.28 208.84,677.28 210.40,677.28 C211.96,677.28 213.53,677.28 215.09,677.28 C216.66,677.28 218.22,677.28 219.79,677.28 C221.35,677.28 222.91,677.28 224.48,677.28 C226.04,677.28 228.39,677.28 229.17,677.28" fill="none" stroke="#b30f3a" stroke-width="1.6" stroke-linecap="butt"/>
<g stroke="#c8102e" stroke-width="0.9" opacity="0.85"><line x1="137.65" y1="672.90" x2="137.65" y2="690.80"/><line x1="134.65" y1="672.90" x2="140.65" y2="672.90"/><line x1="134.65" y1="690.80" x2="140.65" y2="690.80"/></g>
<g stroke="#c8102e" stroke-width="0.9" opacity="0.85"><line x1="184.97" y1="691.30" x2="184.97" y2="712.40"/><line x1="181.97" y1="691.30" x2="187.97" y2="691.30"/><line x1="181.97" y1="712.40" x2="187.97" y2="712.40"/></g>
<g stroke="#c8102e" stroke-width="0.9" opacity="0.85"><line x1="232.30" y1="663.40" x2="232.30" y2="690.20"/><line x1="229.30" y1="663.40" x2="235.30" y2="663.40"/><line x1="229.30" y1="690.20" x2="235.30" y2="690.20"/></g>
<circle cx="46.16" cy="675.70" r="3.3" fill="#1d4f86"/>
<circle cx="90.33" cy="678.10" r="3.3" fill="#1d4f86"/>
<circle cx="137.65" cy="651.80" r="3.3" fill="#1d4f86"/>
<circle cx="184.97" cy="666.20" r="3.3" fill="#1d4f86"/>
<circle cx="232.30" cy="655.60" r="3.3" fill="#1d4f86"/>
<circle cx="46.16" cy="753.00" r="3.3" fill="#c8102e"/>
<circle cx="90.33" cy="749.50" r="3.3" fill="#c8102e"/>
<circle cx="137.65" cy="681.50" r="3.3" fill="#c8102e"/>
<circle cx="184.97" cy="701.70" r="3.3" fill="#c8102e"/>
<circle cx="232.30" cy="676.60" r="3.3" fill="#c8102e"/>
<text x="50.25" y="748.38" font-size="9.0" font-weight="bold" text-anchor="middle" fill="#231f20" stroke="#231f20" stroke-width="0.5">*</text>
<text x="54.00" y="748.38" font-size="9.0" font-weight="bold" text-anchor="middle" fill="#231f20" stroke="#231f20" stroke-width="0.5">*</text>
<text x="87.75" y="738.38" font-size="9.0" font-weight="bold" text-anchor="middle" fill="#231f20" stroke="#231f20" stroke-width="0.5">*</text>
<text x="91.50" y="738.38" font-size="9.0" font-weight="bold" text-anchor="middle" fill="#231f20" stroke="#231f20" stroke-width="0.5">*</text>
<line x1="319.30" y1="623.20" x2="319.30" y2="752.40" stroke="#231f20" stroke-width="1.2"/>
<line x1="315.50" y1="625.55" x2="319.30" y2="625.55" stroke="#231f20" stroke-width="1.2"/>
<text class="m" x="312.50" y="629.15" font-size="9.8" text-anchor="end" font-weight="normal" fill="#231f20">100</text>
<line x1="315.50" y1="657.26" x2="319.30" y2="657.26" stroke="#231f20" stroke-width="1.2"/>
<text class="m" x="312.50" y="660.86" font-size="9.8" text-anchor="end" font-weight="normal" fill="#231f20">75</text>
<line x1="315.50" y1="688.98" x2="319.30" y2="688.98" stroke="#231f20" stroke-width="1.2"/>
<text class="m" x="312.50" y="692.58" font-size="9.8" text-anchor="end" font-weight="normal" fill="#231f20">50</text>
<line x1="315.50" y1="720.69" x2="319.30" y2="720.69" stroke="#231f20" stroke-width="1.2"/>
<text class="m" x="312.50" y="724.29" font-size="9.8" text-anchor="end" font-weight="normal" fill="#231f20">25</text>
<line x1="315.50" y1="752.40" x2="319.30" y2="752.40" stroke="#231f20" stroke-width="1.2"/>
<text class="m" x="312.50" y="756.00" font-size="9.8" text-anchor="end" font-weight="normal" fill="#231f20">0</text>
<line x1="319.30" y1="752.40" x2="512.20" y2="752.40" stroke="#231f20" stroke-width="1.2"/>
<line x1="319.30" y1="752.40" x2="319.30" y2="755.60" stroke="#231f20" stroke-width="1.2"/>
<text class="m" x="319.30" y="767.70" font-size="9.8" text-anchor="middle" font-weight="normal" fill="#231f20">0</text>
<line x1="350.87" y1="752.40" x2="350.87" y2="755.60" stroke="#231f20" stroke-width="1.2"/>
<text class="m" x="350.87" y="767.70" font-size="9.8" text-anchor="middle" font-weight="normal" fill="#231f20">1</text>
<line x1="382.44" y1="752.40" x2="382.44" y2="755.60" stroke="#231f20" stroke-width="1.2"/>
<text class="m" x="382.44" y="767.70" font-size="9.8" text-anchor="middle" font-weight="normal" fill="#231f20">2</text>
<line x1="414.01" y1="752.40" x2="414.01" y2="755.60" stroke="#231f20" stroke-width="1.2"/>
<text class="m" x="414.01" y="767.70" font-size="9.8" text-anchor="middle" font-weight="normal" fill="#231f20">3</text>
<line x1="445.58" y1="752.40" x2="445.58" y2="755.60" stroke="#231f20" stroke-width="1.2"/>
<text class="m" x="445.58" y="767.70" font-size="9.8" text-anchor="middle" font-weight="normal" fill="#231f20">4</text>
<line x1="477.15" y1="752.40" x2="477.15" y2="755.60" stroke="#231f20" stroke-width="1.2"/>
<text class="m" x="477.15" y="767.70" font-size="9.8" text-anchor="middle" font-weight="normal" fill="#231f20">5</text>
<line x1="508.72" y1="752.40" x2="508.72" y2="755.60" stroke="#231f20" stroke-width="1.2"/>
<text class="m" x="508.72" y="767.70" font-size="9.8" text-anchor="middle" font-weight="normal" fill="#231f20">6</text>
<text class="n" x="416.90" y="784.20" font-size="11.6" text-anchor="middle" font-weight="normal" fill="#231f20" textLength="117.20" lengthAdjust="spacingAndGlyphs">Time after IP injection (hours)</text>
<text class="n" transform="translate(290.10,687.50) rotate(-90)" x="0" y="0" font-size="11.0" text-anchor="middle" font-weight="normal" fill="#231f20" textLength="41.50" lengthAdjust="spacingAndGlyphs">Peak (nM)</text>
<g stroke="#285891" stroke-width="0.9" opacity="0.85"><line x1="322.46" y1="682.50" x2="322.46" y2="699.25"/><line x1="319.46" y1="682.50" x2="325.46" y2="682.50"/><line x1="319.46" y1="699.25" x2="325.46" y2="699.25"/></g>
<g stroke="#285891" stroke-width="0.9" opacity="0.85"><line x1="366.66" y1="659.25" x2="366.66" y2="697.50"/><line x1="363.66" y1="659.25" x2="369.66" y2="659.25"/><line x1="363.66" y1="697.50" x2="369.66" y2="697.50"/></g>
<g stroke="#285891" stroke-width="0.9" opacity="0.85"><line x1="414.01" y1="670.60" x2="414.01" y2="692.20"/><line x1="411.01" y1="670.60" x2="417.01" y2="670.60"/><line x1="411.01" y1="692.20" x2="417.01" y2="692.20"/></g>
<g stroke="#285891" stroke-width="0.9" opacity="0.85"><line x1="461.37" y1="651.20" x2="461.37" y2="687.30"/><line x1="458.37" y1="651.20" x2="464.37" y2="651.20"/><line x1="458.37" y1="687.30" x2="464.37" y2="687.30"/></g>
<g stroke="#285891" stroke-width="0.9" opacity="0.85"><line x1="508.72" y1="679.20" x2="508.72" y2="690.80"/><line x1="505.72" y1="679.20" x2="511.72" y2="679.20"/><line x1="505.72" y1="690.80" x2="511.72" y2="690.80"/></g>
<line x1="322.46" y1="679.90" x2="511.30" y2="679.90" stroke="#285891" stroke-width="1.5"/>
<path d="M322.46,751.77 C323.24,751.73 325.59,751.63 327.15,751.55 C328.72,751.46 330.28,751.36 331.85,751.25 C333.41,751.13 334.98,751.01 336.54,750.85 C338.11,750.70 339.67,750.53 341.24,750.32 C342.81,750.11 344.37,749.89 345.94,749.61 C347.50,749.34 349.07,749.04 350.63,748.68 C352.20,748.32 353.76,747.93 355.33,747.47 C356.89,747.00 358.46,746.49 360.02,745.89 C361.59,745.30 363.15,744.64 364.72,743.90 C366.28,743.15 367.85,742.32 369.41,741.40 C370.98,740.48 372.54,739.46 374.11,738.36 C375.68,737.25 377.24,736.04 378.81,734.75 C380.37,733.46 381.94,732.07 383.50,730.63 C385.07,729.19 386.63,727.65 388.20,726.09 C389.76,724.54 391.33,722.91 392.89,721.31 C394.46,719.71 396.02,718.06 397.59,716.49 C399.15,714.91 400.72,713.33 402.28,711.85 C403.85,710.36 405.41,708.91 406.98,707.57 C408.54,706.23 410.11,704.95 411.68,703.78 C413.24,702.61 414.81,701.54 416.37,700.55 C417.94,699.57 419.50,698.68 421.07,697.88 C422.63,697.07 424.20,696.36 425.76,695.72 C427.33,695.07 428.89,694.52 430.46,694.01 C432.02,693.51 433.59,693.08 435.15,692.68 C436.72,692.29 438.28,691.96 439.85,691.66 C441.41,691.37 442.98,691.12 444.55,690.89 C446.11,690.66 447.68,690.48 449.24,690.31 C450.81,690.13 452.37,689.99 453.94,689.87 C455.50,689.74 457.07,689.63 458.63,689.54 C460.20,689.44 461.76,689.36 463.33,689.29 C464.89,689.22 466.46,689.16 468.02,689.11 C469.59,689.06 471.15,689.02 472.72,688.98 C474.28,688.94 475.85,688.91 477.42,688.88 C478.98,688.85 480.55,688.83 482.11,688.80 C483.68,688.78 485.24,688.76 486.81,688.75 C488.37,688.73 489.94,688.72 491.50,688.71 C493.07,688.70 494.63,688.69 496.20,688.68 C497.76,688.67 499.33,688.66 500.89,688.66 C502.46,688.65 504.81,688.64 505.59,688.64" fill="none" stroke="#b30f3a" stroke-width="1.6" stroke-linecap="butt"/>
<g stroke="#c8102e" stroke-width="0.9" opacity="0.85"><line x1="366.66" y1="739.50" x2="366.66" y2="746.25"/><line x1="363.66" y1="739.50" x2="369.66" y2="739.50"/><line x1="363.66" y1="746.25" x2="369.66" y2="746.25"/></g>
<g stroke="#c8102e" stroke-width="0.9" opacity="0.85"><line x1="414.01" y1="697.10" x2="414.01" y2="707.50"/><line x1="411.01" y1="697.10" x2="417.01" y2="697.10"/><line x1="411.01" y1="707.50" x2="417.01" y2="707.50"/></g>
<g stroke="#c8102e" stroke-width="0.9" opacity="0.85"><line x1="461.37" y1="687.90" x2="461.37" y2="707.50"/><line x1="458.37" y1="687.90" x2="464.37" y2="687.90"/><line x1="458.37" y1="707.50" x2="464.37" y2="707.50"/></g>
<g stroke="#c8102e" stroke-width="0.9" opacity="0.85"><line x1="508.72" y1="690.80" x2="508.72" y2="702.90"/><line x1="505.72" y1="690.80" x2="511.72" y2="690.80"/><line x1="505.72" y1="702.90" x2="511.72" y2="702.90"/></g>
<circle cx="322.46" cy="690.75" r="3.3" fill="#1d4f86"/>
<circle cx="366.66" cy="678.25" r="3.3" fill="#1d4f86"/>
<circle cx="414.01" cy="681.20" r="3.3" fill="#1d4f86"/>
<circle cx="461.37" cy="669.10" r="3.3" fill="#1d4f86"/>
<circle cx="508.72" cy="685.00" r="3.3" fill="#1d4f86"/>
<circle cx="322.46" cy="752.40" r="3.3" fill="#c8102e"/>
<circle cx="366.66" cy="743.00" r="3.3" fill="#c8102e"/>
<circle cx="414.01" cy="702.30" r="3.3" fill="#c8102e"/>
<circle cx="461.37" cy="693.60" r="3.3" fill="#c8102e"/>
<circle cx="508.72" cy="696.00" r="3.3" fill="#c8102e"/>
<text x="322.75" y="747.13" font-size="9.0" font-weight="bold" text-anchor="middle" fill="#231f20" stroke="#231f20" stroke-width="0.5">*</text>
<text x="327.50" y="747.13" font-size="9.0" font-weight="bold" text-anchor="middle" fill="#231f20" stroke="#231f20" stroke-width="0.5">*</text>
<text x="332.25" y="747.13" font-size="9.0" font-weight="bold" text-anchor="middle" fill="#231f20" stroke="#231f20" stroke-width="0.5">*</text>
<text x="361.50" y="737.13" font-size="9.0" font-weight="bold" text-anchor="middle" fill="#231f20" stroke="#231f20" stroke-width="0.5">*</text>
<text x="366.25" y="737.13" font-size="9.0" font-weight="bold" text-anchor="middle" fill="#231f20" stroke="#231f20" stroke-width="0.5">*</text>
<text x="371.00" y="737.13" font-size="9.0" font-weight="bold" text-anchor="middle" fill="#231f20" stroke="#231f20" stroke-width="0.5">*</text>
</svg>
</body></html>
